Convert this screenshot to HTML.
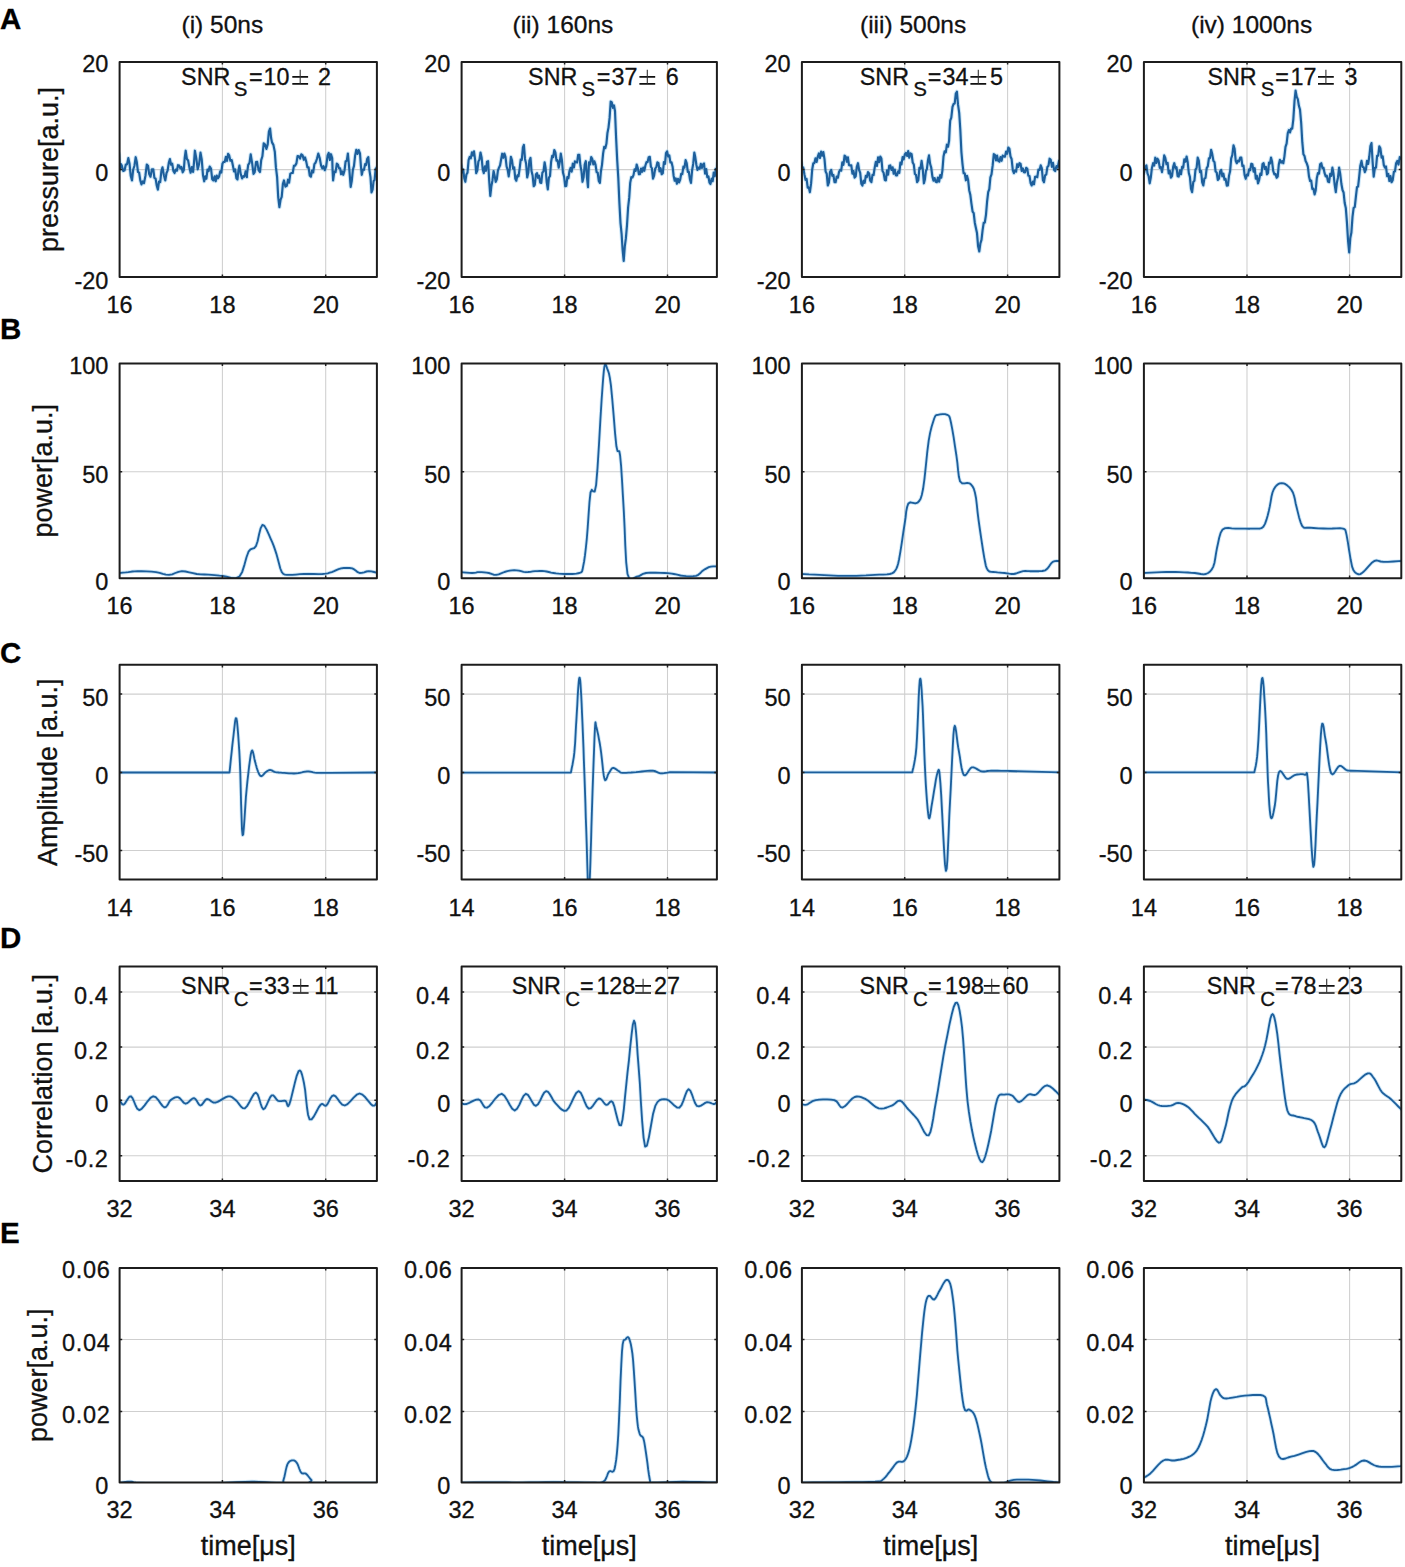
<!DOCTYPE html>
<html><head><meta charset="utf-8"><style>
html,body{margin:0;padding:0;background:#fff;}
svg{display:block;}
text{font-family:"Liberation Sans",sans-serif;fill:#111;stroke:#111;stroke-width:0.3px;}
.tk{font-size:23.5px;}
.lb{font-size:27px;}
.ti{font-size:24.5px;}
.lt{font-size:29.5px;font-weight:bold;fill:#000;}
.snr{font-size:23.3px;}
.sub{font-size:20.5px;}
</style></head><body>
<svg width="1405" height="1567" viewBox="0 0 1405 1567">
<rect width="100%" height="100%" fill="#fff"/>
<defs>
<clipPath id="c00"><rect x="119.6" y="62.0" width="257.29999999999995" height="215.0"/></clipPath>
<clipPath id="c01"><rect x="461.6" y="62.0" width="255.29999999999995" height="215.0"/></clipPath>
<clipPath id="c02"><rect x="801.9" y="62.0" width="257.5000000000001" height="215.0"/></clipPath>
<clipPath id="c03"><rect x="1143.9" y="62.0" width="257.39999999999986" height="215.0"/></clipPath>
<clipPath id="c10"><rect x="119.6" y="363.4" width="257.29999999999995" height="214.80000000000007"/></clipPath>
<clipPath id="c11"><rect x="461.6" y="363.4" width="255.29999999999995" height="214.80000000000007"/></clipPath>
<clipPath id="c12"><rect x="801.9" y="363.4" width="257.5000000000001" height="214.80000000000007"/></clipPath>
<clipPath id="c13"><rect x="1143.9" y="363.4" width="257.39999999999986" height="214.80000000000007"/></clipPath>
<clipPath id="c20"><rect x="119.6" y="664.8" width="257.29999999999995" height="214.80000000000007"/></clipPath>
<clipPath id="c21"><rect x="461.6" y="664.8" width="255.29999999999995" height="214.80000000000007"/></clipPath>
<clipPath id="c22"><rect x="801.9" y="664.8" width="257.5000000000001" height="214.80000000000007"/></clipPath>
<clipPath id="c23"><rect x="1143.9" y="664.8" width="257.39999999999986" height="214.80000000000007"/></clipPath>
<clipPath id="c30"><rect x="119.6" y="966.5" width="257.29999999999995" height="214.5999999999999"/></clipPath>
<clipPath id="c31"><rect x="461.6" y="966.5" width="255.29999999999995" height="214.5999999999999"/></clipPath>
<clipPath id="c32"><rect x="801.9" y="966.5" width="257.5000000000001" height="214.5999999999999"/></clipPath>
<clipPath id="c33"><rect x="1143.9" y="966.5" width="257.39999999999986" height="214.5999999999999"/></clipPath>
<clipPath id="c40"><rect x="119.6" y="1267.9" width="257.29999999999995" height="214.5999999999999"/></clipPath>
<clipPath id="c41"><rect x="461.6" y="1267.9" width="255.29999999999995" height="214.5999999999999"/></clipPath>
<clipPath id="c42"><rect x="801.9" y="1267.9" width="257.5000000000001" height="214.5999999999999"/></clipPath>
<clipPath id="c43"><rect x="1143.9" y="1267.9" width="257.39999999999986" height="214.5999999999999"/></clipPath>
</defs>
<path d="M222.4 62.0V277.0M325.7 62.0V277.0M119.6 169.6H376.9" stroke="#cfcfcf" stroke-width="1.05" fill="none"/>
<g clip-path="url(#c00)" fill="none" stroke-linejoin="round" stroke-linecap="round"><path d="M119.0 153.5 L119.5 162.6 L119.9 169.3 L120.9 164.1 L121.8 165.6 L123.2 171.0 L124.6 170.2 L125.8 164.6 L127.0 164.4 L128.3 158.1 L129.5 163.4 L130.7 175.7 L132.0 180.4 L133.2 169.5 L134.4 166.0 L135.7 157.2 L136.8 162.1 L138.0 172.1 L139.1 172.5 L140.3 180.4 L141.5 184.4 L142.8 181.4 L144.0 183.1 L145.4 176.0 L146.8 164.6 L148.0 165.7 L149.2 174.1 L150.5 176.7 L151.9 169.3 L153.3 169.3 L154.4 177.9 L155.6 178.6 L156.7 185.4 L157.9 189.6 L159.0 181.6 L160.2 182.1 L161.4 171.0 L162.5 167.4 L163.9 175.3 L165.3 180.4 L166.5 173.0 L167.6 170.6 L168.8 162.9 L169.9 159.1 L171.1 164.7 L172.2 163.7 L173.4 171.0 L174.6 173.0 L175.7 169.6 L176.9 170.7 L178.0 165.2 L179.2 165.6 L180.3 168.4 L181.5 167.0 L182.7 172.3 L183.8 170.2 L184.7 158.0 L185.7 150.7 L186.9 159.0 L188.1 160.5 L189.4 167.4 L190.6 172.7 L191.8 167.1 L193.1 172.0 L194.0 162.6 L194.9 150.7 L196.3 158.2 L197.7 169.3 L199.1 163.9 L200.5 152.6 L201.7 159.2 L203.0 175.3 L204.2 181.3 L205.3 176.3 L206.4 178.7 L207.5 169.6 L208.6 171.2 L209.7 166.5 L211.0 168.5 L212.2 179.2 L213.4 180.4 L214.6 176.3 L215.7 181.2 L216.8 175.6 L217.9 178.3 L219.0 176.7 L220.2 171.4 L221.3 172.5 L222.5 163.5 L223.6 161.9 L224.7 161.9 L225.9 156.8 L227.0 160.9 L228.1 153.8 L229.2 155.4 L230.4 160.7 L231.7 160.0 L232.9 165.6 L234.0 171.4 L235.2 169.4 L236.4 178.3 L237.5 179.4 L238.4 170.5 L239.4 165.6 L240.8 174.3 L242.1 178.5 L243.3 176.2 L244.5 176.7 L245.6 171.4 L246.8 173.0 L246.9 177.2 L247.0 173.9 L248.2 164.8 L249.5 162.9 L250.7 154.4 L252.1 162.9 L253.5 173.9 L254.7 172.2 L256.0 162.1 L257.2 161.9 L258.6 170.1 L260.0 172.0 L261.2 160.1 L262.4 156.3 L263.7 143.3 L265.1 144.6 L266.4 148.9 L267.7 144.4 L268.9 131.7 L270.1 128.5 L271.1 138.0 L272.0 142.4 L273.4 144.9 L274.8 151.7 L275.9 167.2 L277.1 177.0 L278.2 197.0 L279.4 207.2 L280.6 199.7 L281.7 196.9 L282.9 183.8 L284.0 180.4 L285.4 186.6 L286.8 185.9 L288.0 179.7 L289.1 182.7 L290.3 173.8 L291.4 173.0 L292.7 173.0 L293.9 165.9 L295.1 165.6 L296.4 163.4 L297.6 156.0 L298.9 156.3 L300.1 158.5 L301.3 154.3 L302.6 155.4 L303.8 159.8 L305.0 157.4 L306.3 161.9 L307.4 167.4 L308.6 167.4 L309.7 175.4 L310.9 176.7 L312.0 170.5 L313.2 172.4 L314.4 164.1 L315.5 162.8 L316.9 159.0 L318.3 153.5 L319.7 158.0 L321.1 165.6 L322.3 168.4 L323.5 166.1 L324.8 170.2 L326.2 166.2 L327.6 155.4 L328.7 152.9 L329.9 160.0 L331.0 154.2 L332.2 158.1 L332.6 170.8 L333.1 180.4 L334.3 171.5 L335.6 172.1 L336.8 163.7 L337.9 164.5 L339.0 168.3 L340.1 168.4 L341.1 174.2 L342.2 171.4 L343.3 174.8 L344.5 170.6 L345.6 161.5 L346.8 160.7 L347.9 153.5 L349.3 169.2 L350.7 186.9 L351.8 180.7 L352.9 169.7 L354.0 165.9 L355.1 155.6 L356.3 149.8 L357.5 154.0 L358.7 150.1 L360.0 153.5 L360.9 165.9 L361.8 174.8 L362.9 169.7 L364.0 169.8 L365.1 164.1 L366.1 165.1 L367.2 158.8 L368.3 157.2 L369.4 170.1 L370.5 177.2 L371.5 192.4 L372.6 189.7 L373.6 181.0 L374.6 180.0 L375.6 169.2 L376.6 167.4" stroke="#5ab0e8" stroke-opacity="0.3" stroke-width="4.2"/><path d="M119.0 153.5 L119.5 162.6 L119.9 169.3 L120.9 164.1 L121.8 165.6 L123.2 171.0 L124.6 170.2 L125.8 164.6 L127.0 164.4 L128.3 158.1 L129.5 163.4 L130.7 175.7 L132.0 180.4 L133.2 169.5 L134.4 166.0 L135.7 157.2 L136.8 162.1 L138.0 172.1 L139.1 172.5 L140.3 180.4 L141.5 184.4 L142.8 181.4 L144.0 183.1 L145.4 176.0 L146.8 164.6 L148.0 165.7 L149.2 174.1 L150.5 176.7 L151.9 169.3 L153.3 169.3 L154.4 177.9 L155.6 178.6 L156.7 185.4 L157.9 189.6 L159.0 181.6 L160.2 182.1 L161.4 171.0 L162.5 167.4 L163.9 175.3 L165.3 180.4 L166.5 173.0 L167.6 170.6 L168.8 162.9 L169.9 159.1 L171.1 164.7 L172.2 163.7 L173.4 171.0 L174.6 173.0 L175.7 169.6 L176.9 170.7 L178.0 165.2 L179.2 165.6 L180.3 168.4 L181.5 167.0 L182.7 172.3 L183.8 170.2 L184.7 158.0 L185.7 150.7 L186.9 159.0 L188.1 160.5 L189.4 167.4 L190.6 172.7 L191.8 167.1 L193.1 172.0 L194.0 162.6 L194.9 150.7 L196.3 158.2 L197.7 169.3 L199.1 163.9 L200.5 152.6 L201.7 159.2 L203.0 175.3 L204.2 181.3 L205.3 176.3 L206.4 178.7 L207.5 169.6 L208.6 171.2 L209.7 166.5 L211.0 168.5 L212.2 179.2 L213.4 180.4 L214.6 176.3 L215.7 181.2 L216.8 175.6 L217.9 178.3 L219.0 176.7 L220.2 171.4 L221.3 172.5 L222.5 163.5 L223.6 161.9 L224.7 161.9 L225.9 156.8 L227.0 160.9 L228.1 153.8 L229.2 155.4 L230.4 160.7 L231.7 160.0 L232.9 165.6 L234.0 171.4 L235.2 169.4 L236.4 178.3 L237.5 179.4 L238.4 170.5 L239.4 165.6 L240.8 174.3 L242.1 178.5 L243.3 176.2 L244.5 176.7 L245.6 171.4 L246.8 173.0 L246.9 177.2 L247.0 173.9 L248.2 164.8 L249.5 162.9 L250.7 154.4 L252.1 162.9 L253.5 173.9 L254.7 172.2 L256.0 162.1 L257.2 161.9 L258.6 170.1 L260.0 172.0 L261.2 160.1 L262.4 156.3 L263.7 143.3 L265.1 144.6 L266.4 148.9 L267.7 144.4 L268.9 131.7 L270.1 128.5 L271.1 138.0 L272.0 142.4 L273.4 144.9 L274.8 151.7 L275.9 167.2 L277.1 177.0 L278.2 197.0 L279.4 207.2 L280.6 199.7 L281.7 196.9 L282.9 183.8 L284.0 180.4 L285.4 186.6 L286.8 185.9 L288.0 179.7 L289.1 182.7 L290.3 173.8 L291.4 173.0 L292.7 173.0 L293.9 165.9 L295.1 165.6 L296.4 163.4 L297.6 156.0 L298.9 156.3 L300.1 158.5 L301.3 154.3 L302.6 155.4 L303.8 159.8 L305.0 157.4 L306.3 161.9 L307.4 167.4 L308.6 167.4 L309.7 175.4 L310.9 176.7 L312.0 170.5 L313.2 172.4 L314.4 164.1 L315.5 162.8 L316.9 159.0 L318.3 153.5 L319.7 158.0 L321.1 165.6 L322.3 168.4 L323.5 166.1 L324.8 170.2 L326.2 166.2 L327.6 155.4 L328.7 152.9 L329.9 160.0 L331.0 154.2 L332.2 158.1 L332.6 170.8 L333.1 180.4 L334.3 171.5 L335.6 172.1 L336.8 163.7 L337.9 164.5 L339.0 168.3 L340.1 168.4 L341.1 174.2 L342.2 171.4 L343.3 174.8 L344.5 170.6 L345.6 161.5 L346.8 160.7 L347.9 153.5 L349.3 169.2 L350.7 186.9 L351.8 180.7 L352.9 169.7 L354.0 165.9 L355.1 155.6 L356.3 149.8 L357.5 154.0 L358.7 150.1 L360.0 153.5 L360.9 165.9 L361.8 174.8 L362.9 169.7 L364.0 169.8 L365.1 164.1 L366.1 165.1 L367.2 158.8 L368.3 157.2 L369.4 170.1 L370.5 177.2 L371.5 192.4 L372.6 189.7 L373.6 181.0 L374.6 180.0 L375.6 169.2 L376.6 167.4" stroke="#1d5f9c" stroke-width="2.15"/></g>
<path d="M222.4 62.0v2.6M222.4 277.0v-2.6M325.7 62.0v2.6M325.7 277.0v-2.6M119.6 169.6h2.6M376.9 169.6h-2.6" stroke="#222" stroke-width="1.5" fill="none"/>
<rect x="119.6" y="62.0" width="257.3" height="215.0" fill="none" stroke="#1c1c1c" stroke-width="2.0" stroke-linejoin="round"/>
<text x="108.4" y="72.1" text-anchor="end" class="tk">20</text>
<text x="108.4" y="181.1" text-anchor="end" class="tk">0</text>
<text x="108.4" y="288.5" text-anchor="end" class="tk">-20</text>
<text x="119.6" y="312.9" text-anchor="middle" class="tk">16</text>
<text x="222.4" y="312.9" text-anchor="middle" class="tk">18</text>
<text x="325.7" y="312.9" text-anchor="middle" class="tk">20</text>
<path d="M564.6 62.0V277.0M667.5 62.0V277.0M461.6 169.6H716.9" stroke="#cfcfcf" stroke-width="1.05" fill="none"/>
<g clip-path="url(#c01)" fill="none" stroke-linejoin="round" stroke-linecap="round"><path d="M461.0 164.5 L462.1 172.5 L463.2 169.5 L464.3 178.4 L465.3 181.8 L466.4 174.5 L467.5 172.6 L468.6 160.1 L469.7 156.9 L470.8 158.3 L471.9 152.4 L472.9 155.4 L474.0 151.4 L475.1 159.7 L476.2 173.1 L477.3 170.5 L478.4 161.5 L479.4 159.8 L480.5 152.5 L481.6 157.4 L482.7 169.2 L483.8 173.1 L484.9 166.4 L486.0 170.8 L487.0 161.7 L488.1 161.2 L489.2 180.7 L490.3 195.9 L491.4 186.0 L492.5 180.2 L493.6 171.0 L494.6 175.5 L495.7 181.8 L496.8 179.3 L497.9 170.7 L499.0 167.7 L500.1 165.3 L501.2 159.0 L502.2 153.7 L503.3 157.8 L504.4 153.6 L505.5 156.8 L506.6 166.5 L507.7 169.8 L508.7 176.4 L509.8 168.4 L510.9 156.9 L512.0 160.4 L513.1 168.7 L514.2 167.4 L515.3 178.8 L516.3 180.7 L517.4 175.4 L518.5 176.3 L519.6 168.8 L520.7 159.6 L521.8 159.9 L522.9 147.4 L523.9 144.9 L525.0 158.9 L526.1 163.5 L527.2 177.5 L528.3 172.8 L529.4 160.7 L530.5 157.9 L531.5 171.0 L532.6 175.5 L533.7 186.2 L534.8 184.9 L535.9 174.5 L537.0 173.1 L538.0 177.8 L539.1 175.6 L540.2 182.7 L541.3 182.9 L542.4 172.5 L543.5 171.5 L544.6 162.3 L545.6 168.0 L546.7 182.2 L547.8 189.4 L548.9 177.6 L550.0 176.1 L551.1 162.0 L552.2 155.8 L553.2 157.2 L554.3 150.0 L555.4 152.5 L556.5 160.6 L557.6 160.4 L558.7 167.7 L559.8 162.1 L560.8 153.6 L561.9 160.0 L563.0 172.8 L564.1 176.7 L565.2 186.2 L566.3 185.9 L567.3 177.0 L568.4 178.3 L569.5 171.0 L570.6 167.8 L571.7 171.7 L572.8 163.7 L573.9 167.5 L574.9 161.4 L576.0 162.3 L577.1 162.5 L578.2 154.7 L579.3 154.7 L580.4 165.5 L581.5 171.3 L582.5 181.8 L583.6 177.3 L584.7 164.5 L585.8 161.2 L586.9 176.9 L588.0 187.2 L588.5 173.7 L589.0 162.3 L590.1 164.5 L591.2 157.1 L592.3 159.0 L593.3 164.4 L594.4 161.3 L595.5 164.5 L596.6 172.1 L597.7 172.7 L598.8 181.0 L599.9 182.9 L600.9 171.5 L602.0 164.8 L603.1 153.6 L604.2 146.9 L605.3 148.2 L606.4 143.8 L607.4 133.3 L608.5 127.6 L609.6 117.9 L610.7 101.5 L611.8 102.4 L612.9 107.8 L614.0 105.4 L615.0 111.3 L616.1 137.8 L617.2 160.1 L618.3 178.1 L619.4 203.0 L620.5 223.1 L621.6 233.8 L622.6 249.7 L623.7 261.0 L624.8 246.3 L625.9 238.2 L627.0 225.2 L628.1 207.5 L629.2 197.9 L630.2 182.9 L631.3 177.2 L632.4 177.5 L633.5 175.1 L634.6 169.4 L635.7 170.9 L636.7 164.5 L637.8 168.1 L638.9 174.2 L640.0 174.1 L641.1 168.5 L642.2 171.8 L643.3 167.5 L644.3 170.8 L645.4 165.5 L646.5 162.1 L647.6 162.1 L648.7 157.2 L649.8 156.9 L650.9 166.7 L651.9 168.3 L653.0 178.6 L654.1 175.6 L655.2 168.6 L656.3 167.2 L657.4 162.3 L658.5 163.1 L659.5 171.3 L660.6 168.2 L661.7 174.2 L662.8 173.2 L663.9 162.0 L665.0 163.9 L666.0 153.1 L667.1 151.4 L668.2 156.4 L669.3 155.4 L670.4 162.4 L671.5 162.3 L672.6 166.7 L673.6 175.7 L674.7 180.7 L675.8 178.4 L676.9 183.7 L678.0 178.9 L679.1 182.4 L680.2 179.6 L681.2 173.8 L682.3 174.2 L683.4 166.7 L684.5 167.7 L685.6 160.1 L686.7 163.1 L687.8 171.8 L688.8 171.7 L689.9 179.2 L691.0 182.9 L692.1 170.3 L693.2 163.9 L694.3 152.5 L695.3 157.3 L696.4 165.0 L697.5 169.9 L698.6 167.5 L699.7 168.8 L700.8 163.9 L701.9 167.9 L702.9 164.5 L704.0 163.5 L705.1 173.6 L706.2 169.0 L707.3 177.1 L708.4 176.3 L709.5 182.7 L710.5 184.0 L711.6 178.7 L712.7 181.2 L713.7 172.6 L714.8 176.1 L715.8 168.9 L716.9 169.8 L717.9 162.6 L719.0 162.3" stroke="#5ab0e8" stroke-opacity="0.3" stroke-width="4.2"/><path d="M461.0 164.5 L462.1 172.5 L463.2 169.5 L464.3 178.4 L465.3 181.8 L466.4 174.5 L467.5 172.6 L468.6 160.1 L469.7 156.9 L470.8 158.3 L471.9 152.4 L472.9 155.4 L474.0 151.4 L475.1 159.7 L476.2 173.1 L477.3 170.5 L478.4 161.5 L479.4 159.8 L480.5 152.5 L481.6 157.4 L482.7 169.2 L483.8 173.1 L484.9 166.4 L486.0 170.8 L487.0 161.7 L488.1 161.2 L489.2 180.7 L490.3 195.9 L491.4 186.0 L492.5 180.2 L493.6 171.0 L494.6 175.5 L495.7 181.8 L496.8 179.3 L497.9 170.7 L499.0 167.7 L500.1 165.3 L501.2 159.0 L502.2 153.7 L503.3 157.8 L504.4 153.6 L505.5 156.8 L506.6 166.5 L507.7 169.8 L508.7 176.4 L509.8 168.4 L510.9 156.9 L512.0 160.4 L513.1 168.7 L514.2 167.4 L515.3 178.8 L516.3 180.7 L517.4 175.4 L518.5 176.3 L519.6 168.8 L520.7 159.6 L521.8 159.9 L522.9 147.4 L523.9 144.9 L525.0 158.9 L526.1 163.5 L527.2 177.5 L528.3 172.8 L529.4 160.7 L530.5 157.9 L531.5 171.0 L532.6 175.5 L533.7 186.2 L534.8 184.9 L535.9 174.5 L537.0 173.1 L538.0 177.8 L539.1 175.6 L540.2 182.7 L541.3 182.9 L542.4 172.5 L543.5 171.5 L544.6 162.3 L545.6 168.0 L546.7 182.2 L547.8 189.4 L548.9 177.6 L550.0 176.1 L551.1 162.0 L552.2 155.8 L553.2 157.2 L554.3 150.0 L555.4 152.5 L556.5 160.6 L557.6 160.4 L558.7 167.7 L559.8 162.1 L560.8 153.6 L561.9 160.0 L563.0 172.8 L564.1 176.7 L565.2 186.2 L566.3 185.9 L567.3 177.0 L568.4 178.3 L569.5 171.0 L570.6 167.8 L571.7 171.7 L572.8 163.7 L573.9 167.5 L574.9 161.4 L576.0 162.3 L577.1 162.5 L578.2 154.7 L579.3 154.7 L580.4 165.5 L581.5 171.3 L582.5 181.8 L583.6 177.3 L584.7 164.5 L585.8 161.2 L586.9 176.9 L588.0 187.2 L588.5 173.7 L589.0 162.3 L590.1 164.5 L591.2 157.1 L592.3 159.0 L593.3 164.4 L594.4 161.3 L595.5 164.5 L596.6 172.1 L597.7 172.7 L598.8 181.0 L599.9 182.9 L600.9 171.5 L602.0 164.8 L603.1 153.6 L604.2 146.9 L605.3 148.2 L606.4 143.8 L607.4 133.3 L608.5 127.6 L609.6 117.9 L610.7 101.5 L611.8 102.4 L612.9 107.8 L614.0 105.4 L615.0 111.3 L616.1 137.8 L617.2 160.1 L618.3 178.1 L619.4 203.0 L620.5 223.1 L621.6 233.8 L622.6 249.7 L623.7 261.0 L624.8 246.3 L625.9 238.2 L627.0 225.2 L628.1 207.5 L629.2 197.9 L630.2 182.9 L631.3 177.2 L632.4 177.5 L633.5 175.1 L634.6 169.4 L635.7 170.9 L636.7 164.5 L637.8 168.1 L638.9 174.2 L640.0 174.1 L641.1 168.5 L642.2 171.8 L643.3 167.5 L644.3 170.8 L645.4 165.5 L646.5 162.1 L647.6 162.1 L648.7 157.2 L649.8 156.9 L650.9 166.7 L651.9 168.3 L653.0 178.6 L654.1 175.6 L655.2 168.6 L656.3 167.2 L657.4 162.3 L658.5 163.1 L659.5 171.3 L660.6 168.2 L661.7 174.2 L662.8 173.2 L663.9 162.0 L665.0 163.9 L666.0 153.1 L667.1 151.4 L668.2 156.4 L669.3 155.4 L670.4 162.4 L671.5 162.3 L672.6 166.7 L673.6 175.7 L674.7 180.7 L675.8 178.4 L676.9 183.7 L678.0 178.9 L679.1 182.4 L680.2 179.6 L681.2 173.8 L682.3 174.2 L683.4 166.7 L684.5 167.7 L685.6 160.1 L686.7 163.1 L687.8 171.8 L688.8 171.7 L689.9 179.2 L691.0 182.9 L692.1 170.3 L693.2 163.9 L694.3 152.5 L695.3 157.3 L696.4 165.0 L697.5 169.9 L698.6 167.5 L699.7 168.8 L700.8 163.9 L701.9 167.9 L702.9 164.5 L704.0 163.5 L705.1 173.6 L706.2 169.0 L707.3 177.1 L708.4 176.3 L709.5 182.7 L710.5 184.0 L711.6 178.7 L712.7 181.2 L713.7 172.6 L714.8 176.1 L715.8 168.9 L716.9 169.8 L717.9 162.6 L719.0 162.3" stroke="#1d5f9c" stroke-width="2.15"/></g>
<path d="M564.6 62.0v2.6M564.6 277.0v-2.6M667.5 62.0v2.6M667.5 277.0v-2.6M461.6 169.6h2.6M716.9 169.6h-2.6" stroke="#222" stroke-width="1.5" fill="none"/>
<rect x="461.6" y="62.0" width="255.3" height="215.0" fill="none" stroke="#1c1c1c" stroke-width="2.0" stroke-linejoin="round"/>
<text x="450.4" y="72.1" text-anchor="end" class="tk">20</text>
<text x="450.4" y="181.1" text-anchor="end" class="tk">0</text>
<text x="450.4" y="288.5" text-anchor="end" class="tk">-20</text>
<text x="461.6" y="312.9" text-anchor="middle" class="tk">16</text>
<text x="564.6" y="312.9" text-anchor="middle" class="tk">18</text>
<text x="667.5" y="312.9" text-anchor="middle" class="tk">20</text>
<path d="M904.7 62.0V277.0M1007.6 62.0V277.0M801.9 169.6H1059.4" stroke="#cfcfcf" stroke-width="1.05" fill="none"/>
<g clip-path="url(#c02)" fill="none" stroke-linejoin="round" stroke-linecap="round"><path d="M801.0 160.9 L802.1 166.9 L803.2 167.4 L804.4 174.3 L805.5 179.8 L806.6 178.9 L807.7 187.7 L808.8 187.6 L809.9 192.2 L811.1 183.4 L812.2 169.5 L813.3 163.2 L814.4 163.1 L815.5 158.3 L816.6 161.9 L817.8 156.5 L818.9 153.4 L820.0 158.0 L821.1 151.6 L822.2 155.6 L823.3 152.0 L824.5 159.1 L825.6 171.5 L826.7 173.7 L827.8 185.5 L828.9 182.7 L830.0 172.1 L831.2 169.9 L832.3 175.8 L833.4 175.0 L834.5 182.2 L835.6 182.2 L836.7 176.5 L837.9 177.7 L839.0 172.1 L840.1 169.9 L841.2 170.6 L842.3 162.3 L843.4 164.8 L844.6 155.7 L845.7 156.5 L846.8 161.7 L847.9 157.4 L849.0 165.2 L850.1 165.4 L851.3 165.3 L852.4 173.7 L853.5 171.0 L854.6 177.7 L855.7 176.3 L856.8 166.9 L858.0 163.2 L859.1 170.0 L860.2 172.9 L861.3 183.6 L862.4 185.5 L863.5 180.7 L864.7 182.8 L865.8 175.8 L866.9 177.1 L868.0 172.1 L869.1 173.5 L870.2 180.7 L871.4 182.2 L872.5 174.8 L873.6 175.0 L874.7 167.6 L875.8 161.9 L876.9 166.0 L878.1 157.4 L879.2 162.1 L880.3 156.5 L881.4 158.6 L882.5 171.0 L883.6 172.8 L884.8 179.9 L885.9 180.4 L887.0 170.4 L888.1 174.7 L889.2 165.8 L890.3 165.4 L891.5 170.0 L892.6 167.3 L893.7 173.7 L894.8 169.6 L895.9 175.4 L897.0 175.5 L898.2 171.4 L899.3 172.8 L900.4 162.6 L901.5 164.4 L902.6 157.1 L903.7 159.3 L904.9 154.2 L906.0 153.0 L907.1 155.9 L908.2 151.1 L909.3 157.7 L910.4 153.3 L911.6 154.2 L912.7 162.5 L913.8 164.5 L914.9 174.0 L916.0 174.8 L917.1 182.2 L918.3 180.3 L919.4 167.8 L920.5 168.6 L921.6 160.9 L922.7 168.3 L923.9 183.3 L924.9 179.4 L925.9 171.1 L926.9 169.1 L928.0 160.0 L929.0 155.4 L930.1 163.8 L931.2 167.5 L932.4 176.6 L933.5 180.6 L934.6 178.1 L935.7 181.7 L936.8 182.2 L937.9 177.6 L939.1 181.7 L940.2 175.1 L941.3 177.7 L942.4 170.6 L943.5 156.5 L944.6 151.4 L945.8 152.4 L946.9 144.7 L948.0 146.7 L949.1 140.8 L949.7 128.2 L950.2 120.7 L951.3 117.6 L952.5 106.9 L953.6 104.0 L954.7 103.5 L955.8 93.5 L956.9 91.7 L958.0 104.4 L959.2 112.9 L960.3 129.5 L961.4 152.0 L962.5 164.1 L963.6 173.2 L964.7 173.2 L965.9 180.3 L967.0 175.9 L968.1 179.9 L969.2 190.2 L970.3 194.7 L971.4 203.4 L972.6 211.6 L973.7 213.1 L974.8 222.7 L975.9 228.0 L977.0 233.1 L978.1 246.3 L979.3 251.4 L980.4 243.4 L981.5 239.9 L982.6 230.2 L983.7 222.8 L984.8 222.6 L986.0 214.6 L987.1 201.5 L988.2 192.2 L989.3 189.2 L990.4 177.3 L991.5 174.3 L992.7 165.2 L993.8 154.2 L994.9 154.9 L996.0 160.4 L997.1 155.6 L998.2 160.9 L999.4 161.6 L1000.5 157.0 L1001.6 160.8 L1002.7 155.6 L1003.8 156.5 L1004.9 156.8 L1006.1 151.6 L1007.2 153.7 L1008.3 147.6 L1009.4 148.7 L1010.5 156.5 L1011.6 159.0 L1012.8 170.2 L1013.9 173.2 L1015.0 170.3 L1016.1 171.7 L1017.2 164.2 L1018.3 166.9 L1019.5 163.2 L1020.6 163.9 L1021.7 170.9 L1022.8 168.4 L1023.9 172.1 L1025.0 172.4 L1026.2 167.8 L1027.3 168.8 L1028.4 175.8 L1029.5 176.0 L1030.6 183.1 L1031.7 185.5 L1032.9 181.5 L1034.0 184.3 L1035.1 176.7 L1036.2 176.6 L1037.3 177.2 L1038.4 169.7 L1039.6 170.0 L1040.7 165.4 L1041.8 168.2 L1042.9 180.0 L1044.0 182.2 L1045.1 175.3 L1046.3 174.3 L1047.4 166.9 L1048.5 165.8 L1049.6 158.7 L1050.7 159.8 L1051.9 166.8 L1053.0 162.8 L1054.1 169.9 L1055.2 171.0 L1056.5 166.0 L1057.7 167.5 L1059.0 160.9" stroke="#5ab0e8" stroke-opacity="0.3" stroke-width="4.2"/><path d="M801.0 160.9 L802.1 166.9 L803.2 167.4 L804.4 174.3 L805.5 179.8 L806.6 178.9 L807.7 187.7 L808.8 187.6 L809.9 192.2 L811.1 183.4 L812.2 169.5 L813.3 163.2 L814.4 163.1 L815.5 158.3 L816.6 161.9 L817.8 156.5 L818.9 153.4 L820.0 158.0 L821.1 151.6 L822.2 155.6 L823.3 152.0 L824.5 159.1 L825.6 171.5 L826.7 173.7 L827.8 185.5 L828.9 182.7 L830.0 172.1 L831.2 169.9 L832.3 175.8 L833.4 175.0 L834.5 182.2 L835.6 182.2 L836.7 176.5 L837.9 177.7 L839.0 172.1 L840.1 169.9 L841.2 170.6 L842.3 162.3 L843.4 164.8 L844.6 155.7 L845.7 156.5 L846.8 161.7 L847.9 157.4 L849.0 165.2 L850.1 165.4 L851.3 165.3 L852.4 173.7 L853.5 171.0 L854.6 177.7 L855.7 176.3 L856.8 166.9 L858.0 163.2 L859.1 170.0 L860.2 172.9 L861.3 183.6 L862.4 185.5 L863.5 180.7 L864.7 182.8 L865.8 175.8 L866.9 177.1 L868.0 172.1 L869.1 173.5 L870.2 180.7 L871.4 182.2 L872.5 174.8 L873.6 175.0 L874.7 167.6 L875.8 161.9 L876.9 166.0 L878.1 157.4 L879.2 162.1 L880.3 156.5 L881.4 158.6 L882.5 171.0 L883.6 172.8 L884.8 179.9 L885.9 180.4 L887.0 170.4 L888.1 174.7 L889.2 165.8 L890.3 165.4 L891.5 170.0 L892.6 167.3 L893.7 173.7 L894.8 169.6 L895.9 175.4 L897.0 175.5 L898.2 171.4 L899.3 172.8 L900.4 162.6 L901.5 164.4 L902.6 157.1 L903.7 159.3 L904.9 154.2 L906.0 153.0 L907.1 155.9 L908.2 151.1 L909.3 157.7 L910.4 153.3 L911.6 154.2 L912.7 162.5 L913.8 164.5 L914.9 174.0 L916.0 174.8 L917.1 182.2 L918.3 180.3 L919.4 167.8 L920.5 168.6 L921.6 160.9 L922.7 168.3 L923.9 183.3 L924.9 179.4 L925.9 171.1 L926.9 169.1 L928.0 160.0 L929.0 155.4 L930.1 163.8 L931.2 167.5 L932.4 176.6 L933.5 180.6 L934.6 178.1 L935.7 181.7 L936.8 182.2 L937.9 177.6 L939.1 181.7 L940.2 175.1 L941.3 177.7 L942.4 170.6 L943.5 156.5 L944.6 151.4 L945.8 152.4 L946.9 144.7 L948.0 146.7 L949.1 140.8 L949.7 128.2 L950.2 120.7 L951.3 117.6 L952.5 106.9 L953.6 104.0 L954.7 103.5 L955.8 93.5 L956.9 91.7 L958.0 104.4 L959.2 112.9 L960.3 129.5 L961.4 152.0 L962.5 164.1 L963.6 173.2 L964.7 173.2 L965.9 180.3 L967.0 175.9 L968.1 179.9 L969.2 190.2 L970.3 194.7 L971.4 203.4 L972.6 211.6 L973.7 213.1 L974.8 222.7 L975.9 228.0 L977.0 233.1 L978.1 246.3 L979.3 251.4 L980.4 243.4 L981.5 239.9 L982.6 230.2 L983.7 222.8 L984.8 222.6 L986.0 214.6 L987.1 201.5 L988.2 192.2 L989.3 189.2 L990.4 177.3 L991.5 174.3 L992.7 165.2 L993.8 154.2 L994.9 154.9 L996.0 160.4 L997.1 155.6 L998.2 160.9 L999.4 161.6 L1000.5 157.0 L1001.6 160.8 L1002.7 155.6 L1003.8 156.5 L1004.9 156.8 L1006.1 151.6 L1007.2 153.7 L1008.3 147.6 L1009.4 148.7 L1010.5 156.5 L1011.6 159.0 L1012.8 170.2 L1013.9 173.2 L1015.0 170.3 L1016.1 171.7 L1017.2 164.2 L1018.3 166.9 L1019.5 163.2 L1020.6 163.9 L1021.7 170.9 L1022.8 168.4 L1023.9 172.1 L1025.0 172.4 L1026.2 167.8 L1027.3 168.8 L1028.4 175.8 L1029.5 176.0 L1030.6 183.1 L1031.7 185.5 L1032.9 181.5 L1034.0 184.3 L1035.1 176.7 L1036.2 176.6 L1037.3 177.2 L1038.4 169.7 L1039.6 170.0 L1040.7 165.4 L1041.8 168.2 L1042.9 180.0 L1044.0 182.2 L1045.1 175.3 L1046.3 174.3 L1047.4 166.9 L1048.5 165.8 L1049.6 158.7 L1050.7 159.8 L1051.9 166.8 L1053.0 162.8 L1054.1 169.9 L1055.2 171.0 L1056.5 166.0 L1057.7 167.5 L1059.0 160.9" stroke="#1d5f9c" stroke-width="2.15"/></g>
<path d="M904.7 62.0v2.6M904.7 277.0v-2.6M1007.6 62.0v2.6M1007.6 277.0v-2.6M801.9 169.6h2.6M1059.4 169.6h-2.6" stroke="#222" stroke-width="1.5" fill="none"/>
<rect x="801.9" y="62.0" width="257.5" height="215.0" fill="none" stroke="#1c1c1c" stroke-width="2.0" stroke-linejoin="round"/>
<text x="790.7" y="72.1" text-anchor="end" class="tk">20</text>
<text x="790.7" y="181.1" text-anchor="end" class="tk">0</text>
<text x="790.7" y="288.5" text-anchor="end" class="tk">-20</text>
<text x="801.9" y="312.9" text-anchor="middle" class="tk">16</text>
<text x="904.7" y="312.9" text-anchor="middle" class="tk">18</text>
<text x="1007.6" y="312.9" text-anchor="middle" class="tk">20</text>
<path d="M1247.0 62.0V277.0M1349.6 62.0V277.0M1143.9 169.6H1401.3" stroke="#cfcfcf" stroke-width="1.05" fill="none"/>
<g clip-path="url(#c03)" fill="none" stroke-linejoin="round" stroke-linecap="round"><path d="M1143.0 174.3 L1144.1 172.9 L1145.2 167.3 L1146.4 165.4 L1147.5 173.4 L1148.6 176.1 L1149.7 183.3 L1150.8 177.6 L1151.9 167.9 L1153.1 163.2 L1154.2 165.6 L1155.3 157.7 L1156.4 162.9 L1157.5 158.7 L1158.6 160.6 L1159.8 167.8 L1160.9 167.1 L1162.0 172.1 L1163.1 165.1 L1164.2 155.4 L1165.3 158.0 L1166.5 164.2 L1167.6 162.9 L1168.7 173.5 L1169.8 170.8 L1170.9 177.7 L1172.0 176.1 L1173.2 166.6 L1174.3 163.2 L1175.4 168.3 L1176.5 167.2 L1177.6 176.2 L1178.7 176.6 L1179.9 170.3 L1181.0 174.3 L1182.1 166.9 L1183.2 167.7 L1184.3 159.4 L1185.4 161.7 L1186.6 156.5 L1187.7 162.3 L1188.8 173.0 L1189.9 176.9 L1191.0 188.7 L1192.1 192.2 L1193.3 181.9 L1194.4 180.8 L1195.5 169.7 L1196.6 168.0 L1197.7 157.6 L1198.8 160.7 L1200.0 172.2 L1201.1 171.0 L1202.2 182.3 L1203.3 185.5 L1204.4 178.4 L1205.5 177.9 L1206.7 168.1 L1207.8 166.4 L1208.9 158.3 L1210.0 158.1 L1211.1 149.8 L1212.2 153.9 L1213.4 160.8 L1214.5 162.2 L1215.6 171.5 L1216.7 172.5 L1217.8 179.9 L1218.9 178.8 L1220.1 171.4 L1221.2 169.9 L1222.3 176.3 L1223.4 173.7 L1224.5 179.7 L1225.6 178.9 L1226.8 185.6 L1227.9 185.5 L1229.0 175.8 L1230.1 171.3 L1231.2 158.3 L1232.3 155.1 L1233.5 145.3 L1234.6 148.8 L1235.7 160.7 L1236.8 163.2 L1237.9 160.7 L1239.0 161.4 L1240.2 157.5 L1241.3 157.6 L1242.4 166.0 L1243.5 165.6 L1244.6 175.0 L1245.7 178.8 L1246.9 174.6 L1248.0 175.3 L1249.1 169.4 L1250.2 170.1 L1251.3 163.8 L1252.4 164.3 L1253.6 171.6 L1254.7 168.2 L1255.8 178.7 L1256.9 175.8 L1258.0 183.3 L1259.1 180.1 L1260.3 173.6 L1261.4 174.9 L1262.5 164.1 L1263.6 163.2 L1264.7 168.9 L1265.9 167.0 L1267.0 174.3 L1268.0 172.8 L1269.0 162.7 L1270.0 163.5 L1271.0 157.6 L1272.1 161.8 L1273.2 170.9 L1274.4 174.3 L1275.5 173.9 L1276.6 177.8 L1277.7 176.6 L1278.8 164.5 L1279.9 159.8 L1281.1 162.7 L1282.2 161.2 L1283.3 163.2 L1284.4 156.6 L1285.5 146.8 L1286.6 143.7 L1287.8 133.0 L1288.9 130.0 L1290.0 132.5 L1291.1 128.6 L1292.2 128.6 L1293.3 119.6 L1294.5 101.2 L1295.6 90.6 L1296.7 96.8 L1297.8 99.1 L1298.9 105.8 L1300.0 109.6 L1301.2 123.2 L1302.3 142.2 L1303.4 154.2 L1304.5 156.0 L1305.6 161.1 L1306.7 163.2 L1307.9 166.9 L1309.0 176.6 L1310.1 181.0 L1311.2 180.6 L1312.3 188.9 L1313.4 188.7 L1314.6 194.4 L1315.7 190.5 L1316.8 178.3 L1317.9 173.2 L1319.0 173.6 L1320.1 164.3 L1321.3 163.2 L1322.4 168.1 L1323.5 167.8 L1324.6 173.2 L1325.7 176.4 L1326.8 175.6 L1328.0 181.5 L1329.1 182.2 L1330.2 173.9 L1331.3 175.8 L1332.4 167.6 L1333.5 173.5 L1334.7 184.9 L1335.8 192.2 L1336.9 182.5 L1338.0 177.4 L1339.1 167.6 L1340.2 173.7 L1341.4 184.0 L1342.5 190.0 L1343.6 192.5 L1344.7 203.1 L1345.8 207.9 L1346.9 221.8 L1348.1 241.2 L1349.2 252.5 L1350.3 238.1 L1351.4 232.5 L1352.5 216.8 L1353.6 208.1 L1354.8 206.9 L1355.9 196.7 L1357.0 187.2 L1358.1 186.5 L1359.2 176.6 L1360.3 165.7 L1361.5 160.9 L1362.6 166.9 L1363.7 167.3 L1364.8 172.1 L1365.9 169.6 L1367.0 160.9 L1368.2 163.9 L1369.3 156.5 L1370.4 146.2 L1371.5 143.1 L1372.6 161.6 L1373.7 176.6 L1374.9 167.8 L1376.0 167.7 L1377.1 155.8 L1378.2 155.7 L1379.3 146.4 L1380.4 148.3 L1381.6 157.7 L1382.7 156.3 L1383.8 165.0 L1384.9 167.6 L1386.0 166.5 L1387.1 176.2 L1388.3 173.9 L1389.4 181.0 L1390.5 176.1 L1391.6 182.2 L1392.7 180.2 L1393.9 171.7 L1395.0 171.4 L1396.1 163.2 L1397.3 160.9 L1398.5 164.6 L1399.8 157.0 L1401.0 158.7" stroke="#5ab0e8" stroke-opacity="0.3" stroke-width="4.2"/><path d="M1143.0 174.3 L1144.1 172.9 L1145.2 167.3 L1146.4 165.4 L1147.5 173.4 L1148.6 176.1 L1149.7 183.3 L1150.8 177.6 L1151.9 167.9 L1153.1 163.2 L1154.2 165.6 L1155.3 157.7 L1156.4 162.9 L1157.5 158.7 L1158.6 160.6 L1159.8 167.8 L1160.9 167.1 L1162.0 172.1 L1163.1 165.1 L1164.2 155.4 L1165.3 158.0 L1166.5 164.2 L1167.6 162.9 L1168.7 173.5 L1169.8 170.8 L1170.9 177.7 L1172.0 176.1 L1173.2 166.6 L1174.3 163.2 L1175.4 168.3 L1176.5 167.2 L1177.6 176.2 L1178.7 176.6 L1179.9 170.3 L1181.0 174.3 L1182.1 166.9 L1183.2 167.7 L1184.3 159.4 L1185.4 161.7 L1186.6 156.5 L1187.7 162.3 L1188.8 173.0 L1189.9 176.9 L1191.0 188.7 L1192.1 192.2 L1193.3 181.9 L1194.4 180.8 L1195.5 169.7 L1196.6 168.0 L1197.7 157.6 L1198.8 160.7 L1200.0 172.2 L1201.1 171.0 L1202.2 182.3 L1203.3 185.5 L1204.4 178.4 L1205.5 177.9 L1206.7 168.1 L1207.8 166.4 L1208.9 158.3 L1210.0 158.1 L1211.1 149.8 L1212.2 153.9 L1213.4 160.8 L1214.5 162.2 L1215.6 171.5 L1216.7 172.5 L1217.8 179.9 L1218.9 178.8 L1220.1 171.4 L1221.2 169.9 L1222.3 176.3 L1223.4 173.7 L1224.5 179.7 L1225.6 178.9 L1226.8 185.6 L1227.9 185.5 L1229.0 175.8 L1230.1 171.3 L1231.2 158.3 L1232.3 155.1 L1233.5 145.3 L1234.6 148.8 L1235.7 160.7 L1236.8 163.2 L1237.9 160.7 L1239.0 161.4 L1240.2 157.5 L1241.3 157.6 L1242.4 166.0 L1243.5 165.6 L1244.6 175.0 L1245.7 178.8 L1246.9 174.6 L1248.0 175.3 L1249.1 169.4 L1250.2 170.1 L1251.3 163.8 L1252.4 164.3 L1253.6 171.6 L1254.7 168.2 L1255.8 178.7 L1256.9 175.8 L1258.0 183.3 L1259.1 180.1 L1260.3 173.6 L1261.4 174.9 L1262.5 164.1 L1263.6 163.2 L1264.7 168.9 L1265.9 167.0 L1267.0 174.3 L1268.0 172.8 L1269.0 162.7 L1270.0 163.5 L1271.0 157.6 L1272.1 161.8 L1273.2 170.9 L1274.4 174.3 L1275.5 173.9 L1276.6 177.8 L1277.7 176.6 L1278.8 164.5 L1279.9 159.8 L1281.1 162.7 L1282.2 161.2 L1283.3 163.2 L1284.4 156.6 L1285.5 146.8 L1286.6 143.7 L1287.8 133.0 L1288.9 130.0 L1290.0 132.5 L1291.1 128.6 L1292.2 128.6 L1293.3 119.6 L1294.5 101.2 L1295.6 90.6 L1296.7 96.8 L1297.8 99.1 L1298.9 105.8 L1300.0 109.6 L1301.2 123.2 L1302.3 142.2 L1303.4 154.2 L1304.5 156.0 L1305.6 161.1 L1306.7 163.2 L1307.9 166.9 L1309.0 176.6 L1310.1 181.0 L1311.2 180.6 L1312.3 188.9 L1313.4 188.7 L1314.6 194.4 L1315.7 190.5 L1316.8 178.3 L1317.9 173.2 L1319.0 173.6 L1320.1 164.3 L1321.3 163.2 L1322.4 168.1 L1323.5 167.8 L1324.6 173.2 L1325.7 176.4 L1326.8 175.6 L1328.0 181.5 L1329.1 182.2 L1330.2 173.9 L1331.3 175.8 L1332.4 167.6 L1333.5 173.5 L1334.7 184.9 L1335.8 192.2 L1336.9 182.5 L1338.0 177.4 L1339.1 167.6 L1340.2 173.7 L1341.4 184.0 L1342.5 190.0 L1343.6 192.5 L1344.7 203.1 L1345.8 207.9 L1346.9 221.8 L1348.1 241.2 L1349.2 252.5 L1350.3 238.1 L1351.4 232.5 L1352.5 216.8 L1353.6 208.1 L1354.8 206.9 L1355.9 196.7 L1357.0 187.2 L1358.1 186.5 L1359.2 176.6 L1360.3 165.7 L1361.5 160.9 L1362.6 166.9 L1363.7 167.3 L1364.8 172.1 L1365.9 169.6 L1367.0 160.9 L1368.2 163.9 L1369.3 156.5 L1370.4 146.2 L1371.5 143.1 L1372.6 161.6 L1373.7 176.6 L1374.9 167.8 L1376.0 167.7 L1377.1 155.8 L1378.2 155.7 L1379.3 146.4 L1380.4 148.3 L1381.6 157.7 L1382.7 156.3 L1383.8 165.0 L1384.9 167.6 L1386.0 166.5 L1387.1 176.2 L1388.3 173.9 L1389.4 181.0 L1390.5 176.1 L1391.6 182.2 L1392.7 180.2 L1393.9 171.7 L1395.0 171.4 L1396.1 163.2 L1397.3 160.9 L1398.5 164.6 L1399.8 157.0 L1401.0 158.7" stroke="#1d5f9c" stroke-width="2.15"/></g>
<path d="M1247.0 62.0v2.6M1247.0 277.0v-2.6M1349.6 62.0v2.6M1349.6 277.0v-2.6M1143.9 169.6h2.6M1401.3 169.6h-2.6" stroke="#222" stroke-width="1.5" fill="none"/>
<rect x="1143.9" y="62.0" width="257.4" height="215.0" fill="none" stroke="#1c1c1c" stroke-width="2.0" stroke-linejoin="round"/>
<text x="1132.7" y="72.1" text-anchor="end" class="tk">20</text>
<text x="1132.7" y="181.1" text-anchor="end" class="tk">0</text>
<text x="1132.7" y="288.5" text-anchor="end" class="tk">-20</text>
<text x="1143.9" y="312.9" text-anchor="middle" class="tk">16</text>
<text x="1247.0" y="312.9" text-anchor="middle" class="tk">18</text>
<text x="1349.6" y="312.9" text-anchor="middle" class="tk">20</text>
<text transform="translate(57.6 169.5) rotate(-90)" text-anchor="middle" class="lb">pressure[a.u.]</text>
<path d="M222.4 363.4V578.2M325.7 363.4V578.2M119.6 471.7H376.9" stroke="#cfcfcf" stroke-width="1.05" fill="none"/>
<g clip-path="url(#c10)" fill="none" stroke-linejoin="round" stroke-linecap="round"><path d="M119.0 573.0 L120.7 572.9 L123.0 572.6 L125.7 572.4 L128.3 572.1 L130.3 571.8 L132.3 571.5 L134.5 571.3 L137.5 571.2 L141.6 571.2 L146.5 571.4 L151.6 571.7 L156.0 572.1 L159.6 572.8 L162.8 573.8 L165.9 574.6 L169.0 574.9 L172.2 574.3 L175.3 573.0 L178.5 571.8 L181.9 571.2 L185.5 571.5 L189.2 572.3 L193.0 573.2 L196.7 574.0 L200.5 574.3 L204.4 574.5 L208.1 574.7 L211.5 574.9 L214.4 575.1 L217.0 575.3 L219.5 575.6 L222.6 575.8 L226.6 576.6 L231.1 577.9 L235.5 578.3 L239.3 576.7 L242.2 571.9 L244.5 564.6 L246.5 557.2 L248.5 551.7 L250.5 549.4 L252.4 548.7 L254.2 548.2 L255.9 546.2 L257.6 541.2 L259.1 534.3 L260.7 528.1 L262.4 524.9 L264.4 525.9 L266.6 529.6 L268.8 534.4 L270.7 538.8 L272.3 542.3 L273.7 545.9 L275.0 549.6 L276.3 553.6 L277.6 558.3 L279.0 563.6 L280.3 568.5 L281.8 572.1 L283.4 574.0 L285.0 574.7 L286.8 574.8 L289.2 574.9 L292.3 574.9 L296.0 574.6 L299.9 574.2 L304.0 574.0 L308.6 573.9 L313.6 574.0 L318.5 574.1 L322.6 574.0 L325.5 573.7 L327.8 573.3 L329.7 572.7 L331.8 572.1 L334.1 571.2 L336.3 570.1 L338.6 569.1 L341.1 568.4 L343.8 568.0 L346.7 567.9 L349.6 568.0 L352.2 568.4 L354.2 569.4 L356.0 570.8 L357.7 572.2 L359.6 573.0 L361.7 572.9 L364.1 572.3 L366.5 571.5 L368.8 571.2 L371.3 571.4 L374.0 572.0 L376.4 572.6 L378.1 573.0" stroke="#5ab0e8" stroke-opacity="0.3" stroke-width="3.6"/><path d="M119.0 573.0 L120.7 572.9 L123.0 572.6 L125.7 572.4 L128.3 572.1 L130.3 571.8 L132.3 571.5 L134.5 571.3 L137.5 571.2 L141.6 571.2 L146.5 571.4 L151.6 571.7 L156.0 572.1 L159.6 572.8 L162.8 573.8 L165.9 574.6 L169.0 574.9 L172.2 574.3 L175.3 573.0 L178.5 571.8 L181.9 571.2 L185.5 571.5 L189.2 572.3 L193.0 573.2 L196.7 574.0 L200.5 574.3 L204.4 574.5 L208.1 574.7 L211.5 574.9 L214.4 575.1 L217.0 575.3 L219.5 575.6 L222.6 575.8 L226.6 576.6 L231.1 577.9 L235.5 578.3 L239.3 576.7 L242.2 571.9 L244.5 564.6 L246.5 557.2 L248.5 551.7 L250.5 549.4 L252.4 548.7 L254.2 548.2 L255.9 546.2 L257.6 541.2 L259.1 534.3 L260.7 528.1 L262.4 524.9 L264.4 525.9 L266.6 529.6 L268.8 534.4 L270.7 538.8 L272.3 542.3 L273.7 545.9 L275.0 549.6 L276.3 553.6 L277.6 558.3 L279.0 563.6 L280.3 568.5 L281.8 572.1 L283.4 574.0 L285.0 574.7 L286.8 574.8 L289.2 574.9 L292.3 574.9 L296.0 574.6 L299.9 574.2 L304.0 574.0 L308.6 573.9 L313.6 574.0 L318.5 574.1 L322.6 574.0 L325.5 573.7 L327.8 573.3 L329.7 572.7 L331.8 572.1 L334.1 571.2 L336.3 570.1 L338.6 569.1 L341.1 568.4 L343.8 568.0 L346.7 567.9 L349.6 568.0 L352.2 568.4 L354.2 569.4 L356.0 570.8 L357.7 572.2 L359.6 573.0 L361.7 572.9 L364.1 572.3 L366.5 571.5 L368.8 571.2 L371.3 571.4 L374.0 572.0 L376.4 572.6 L378.1 573.0" stroke="#1d5f9c" stroke-width="1.85"/></g>
<path d="M222.4 363.4v2.6M222.4 578.2v-2.6M325.7 363.4v2.6M325.7 578.2v-2.6M119.6 471.7h2.6M376.9 471.7h-2.6" stroke="#222" stroke-width="1.5" fill="none"/>
<rect x="119.6" y="363.4" width="257.3" height="214.8" fill="none" stroke="#1c1c1c" stroke-width="2.0" stroke-linejoin="round"/>
<text x="108.4" y="373.5" text-anchor="end" class="tk">100</text>
<text x="108.4" y="483.2" text-anchor="end" class="tk">50</text>
<text x="108.4" y="589.7" text-anchor="end" class="tk">0</text>
<text x="119.6" y="614.1" text-anchor="middle" class="tk">16</text>
<text x="222.4" y="614.1" text-anchor="middle" class="tk">18</text>
<text x="325.7" y="614.1" text-anchor="middle" class="tk">20</text>
<path d="M564.6 363.4V578.2M667.5 363.4V578.2M461.6 471.7H716.9" stroke="#cfcfcf" stroke-width="1.05" fill="none"/>
<g clip-path="url(#c11)" fill="none" stroke-linejoin="round" stroke-linecap="round"><path d="M461.0 572.1 L463.1 572.3 L466.1 572.6 L469.3 572.9 L472.1 573.0 L474.2 572.9 L475.9 572.6 L477.6 572.2 L479.5 572.1 L481.7 572.2 L484.1 572.4 L486.5 572.7 L488.8 573.0 L490.7 573.6 L492.3 574.2 L494.1 574.8 L496.2 574.9 L498.7 574.3 L501.6 573.2 L504.5 572.0 L507.3 571.2 L509.7 570.7 L512.0 570.4 L514.2 570.2 L516.5 570.3 L518.8 570.6 L521.1 571.2 L523.5 571.8 L525.8 572.1 L528.1 572.0 L530.4 571.8 L532.7 571.4 L535.0 571.2 L537.3 571.1 L539.6 571.0 L542.0 571.0 L544.3 571.2 L546.5 571.5 L548.8 572.0 L551.1 572.6 L553.5 573.0 L556.1 573.4 L558.7 573.7 L561.5 573.9 L564.6 574.0 L568.3 574.0 L572.5 574.0 L576.4 573.7 L579.4 573.0 L581.1 572.3 L582.0 571.5 L582.5 569.8 L583.1 566.6 L584.1 561.5 L585.0 555.2 L585.9 547.5 L586.8 538.8 L587.7 527.6 L588.6 514.4 L589.5 501.8 L590.5 492.5 L591.8 489.8 L593.2 491.3 L594.7 491.5 L596.1 485.1 L597.5 468.1 L599.0 444.2 L600.4 419.5 L601.6 400.0 L602.5 387.2 L603.2 377.9 L603.8 371.3 L604.4 366.7 L605.1 364.3 L605.7 364.5 L606.4 366.2 L607.2 368.6 L608.0 370.6 L608.9 373.2 L609.8 377.6 L610.9 385.2 L612.2 398.6 L613.7 416.2 L615.1 433.6 L616.4 446.3 L617.5 451.1 L618.4 451.2 L619.3 451.2 L620.1 455.5 L621.1 466.0 L622.0 479.9 L622.9 495.6 L623.8 511.0 L624.6 527.7 L625.3 545.8 L626.2 562.3 L627.5 574.0 L629.5 579.0 L631.8 579.5 L634.4 577.9 L636.8 576.7 L638.9 576.2 L640.8 575.1 L643.1 573.8 L646.0 573.0 L650.2 572.7 L655.3 572.7 L660.4 572.9 L664.6 573.0 L667.5 573.2 L669.8 573.4 L671.7 573.6 L673.8 574.0 L676.0 574.4 L678.2 574.9 L680.5 575.5 L683.1 575.8 L686.2 576.1 L689.7 576.3 L693.1 576.2 L696.0 575.8 L698.3 574.8 L700.1 573.3 L701.7 571.6 L703.4 570.3 L705.2 569.1 L707.0 568.1 L708.8 567.2 L710.8 566.6 L713.2 566.3 L715.9 566.3 L718.4 566.5 L720.1 566.6" stroke="#5ab0e8" stroke-opacity="0.3" stroke-width="3.6"/><path d="M461.0 572.1 L463.1 572.3 L466.1 572.6 L469.3 572.9 L472.1 573.0 L474.2 572.9 L475.9 572.6 L477.6 572.2 L479.5 572.1 L481.7 572.2 L484.1 572.4 L486.5 572.7 L488.8 573.0 L490.7 573.6 L492.3 574.2 L494.1 574.8 L496.2 574.9 L498.7 574.3 L501.6 573.2 L504.5 572.0 L507.3 571.2 L509.7 570.7 L512.0 570.4 L514.2 570.2 L516.5 570.3 L518.8 570.6 L521.1 571.2 L523.5 571.8 L525.8 572.1 L528.1 572.0 L530.4 571.8 L532.7 571.4 L535.0 571.2 L537.3 571.1 L539.6 571.0 L542.0 571.0 L544.3 571.2 L546.5 571.5 L548.8 572.0 L551.1 572.6 L553.5 573.0 L556.1 573.4 L558.7 573.7 L561.5 573.9 L564.6 574.0 L568.3 574.0 L572.5 574.0 L576.4 573.7 L579.4 573.0 L581.1 572.3 L582.0 571.5 L582.5 569.8 L583.1 566.6 L584.1 561.5 L585.0 555.2 L585.9 547.5 L586.8 538.8 L587.7 527.6 L588.6 514.4 L589.5 501.8 L590.5 492.5 L591.8 489.8 L593.2 491.3 L594.7 491.5 L596.1 485.1 L597.5 468.1 L599.0 444.2 L600.4 419.5 L601.6 400.0 L602.5 387.2 L603.2 377.9 L603.8 371.3 L604.4 366.7 L605.1 364.3 L605.7 364.5 L606.4 366.2 L607.2 368.6 L608.0 370.6 L608.9 373.2 L609.8 377.6 L610.9 385.2 L612.2 398.6 L613.7 416.2 L615.1 433.6 L616.4 446.3 L617.5 451.1 L618.4 451.2 L619.3 451.2 L620.1 455.5 L621.1 466.0 L622.0 479.9 L622.9 495.6 L623.8 511.0 L624.6 527.7 L625.3 545.8 L626.2 562.3 L627.5 574.0 L629.5 579.0 L631.8 579.5 L634.4 577.9 L636.8 576.7 L638.9 576.2 L640.8 575.1 L643.1 573.8 L646.0 573.0 L650.2 572.7 L655.3 572.7 L660.4 572.9 L664.6 573.0 L667.5 573.2 L669.8 573.4 L671.7 573.6 L673.8 574.0 L676.0 574.4 L678.2 574.9 L680.5 575.5 L683.1 575.8 L686.2 576.1 L689.7 576.3 L693.1 576.2 L696.0 575.8 L698.3 574.8 L700.1 573.3 L701.7 571.6 L703.4 570.3 L705.2 569.1 L707.0 568.1 L708.8 567.2 L710.8 566.6 L713.2 566.3 L715.9 566.3 L718.4 566.5 L720.1 566.6" stroke="#1d5f9c" stroke-width="1.85"/></g>
<path d="M564.6 363.4v2.6M564.6 578.2v-2.6M667.5 363.4v2.6M667.5 578.2v-2.6M461.6 471.7h2.6M716.9 471.7h-2.6" stroke="#222" stroke-width="1.5" fill="none"/>
<rect x="461.6" y="363.4" width="255.3" height="214.8" fill="none" stroke="#1c1c1c" stroke-width="2.0" stroke-linejoin="round"/>
<text x="450.4" y="373.5" text-anchor="end" class="tk">100</text>
<text x="450.4" y="483.2" text-anchor="end" class="tk">50</text>
<text x="450.4" y="589.7" text-anchor="end" class="tk">0</text>
<text x="461.6" y="614.1" text-anchor="middle" class="tk">16</text>
<text x="564.6" y="614.1" text-anchor="middle" class="tk">18</text>
<text x="667.5" y="614.1" text-anchor="middle" class="tk">20</text>
<path d="M904.7 363.4V578.2M1007.6 363.4V578.2M801.9 471.7H1059.4" stroke="#cfcfcf" stroke-width="1.05" fill="none"/>
<g clip-path="url(#c12)" fill="none" stroke-linejoin="round" stroke-linecap="round"><path d="M801.0 574.0 L804.3 574.1 L809.1 574.4 L814.4 574.6 L819.5 574.9 L824.1 575.1 L828.8 575.4 L833.4 575.6 L838.0 575.8 L842.6 575.9 L847.3 575.9 L851.9 575.9 L856.5 575.8 L861.2 575.6 L866.0 575.4 L870.7 575.1 L875.0 574.9 L879.2 574.7 L883.2 574.6 L886.9 574.4 L889.8 574.0 L891.9 573.4 L893.3 572.7 L894.3 571.8 L895.4 570.3 L896.4 568.6 L897.2 566.7 L898.1 563.8 L899.1 559.2 L900.4 551.7 L901.9 542.1 L903.3 532.3 L904.6 524.0 L905.6 517.4 L906.2 511.7 L907.1 507.0 L908.3 503.6 L910.3 502.3 L912.8 502.8 L915.4 503.4 L917.6 502.7 L919.2 501.0 L920.6 498.7 L921.8 495.0 L923.1 488.8 L924.5 478.6 L925.9 465.3 L927.3 451.7 L928.7 440.7 L930.1 432.9 L931.6 426.8 L933.0 422.2 L934.2 418.5 L935.2 416.2 L935.9 415.3 L936.7 415.0 L937.9 414.8 L940.0 414.4 L942.6 414.1 L945.1 414.2 L947.2 414.8 L948.5 415.5 L949.3 416.4 L950.0 418.4 L950.9 422.2 L952.2 428.9 L953.7 437.7 L955.1 447.1 L956.4 455.5 L957.4 463.1 L958.1 470.4 L958.9 476.8 L960.1 481.4 L962.2 483.4 L964.7 483.4 L967.2 482.9 L969.4 483.3 L971.1 484.6 L972.5 486.3 L973.8 488.7 L974.9 492.5 L976.0 498.0 L976.8 504.7 L977.6 512.3 L978.6 520.3 L979.9 529.5 L981.4 539.7 L982.9 549.5 L984.2 557.3 L985.2 562.5 L985.9 566.0 L986.8 568.4 L987.9 570.3 L989.4 571.5 L991.3 571.9 L993.2 572.0 L995.3 572.1 L997.5 572.4 L999.8 572.6 L1002.2 572.8 L1004.6 573.0 L1006.9 573.3 L1009.2 573.7 L1011.5 574.0 L1013.8 574.0 L1016.1 573.5 L1018.4 572.6 L1020.7 571.8 L1023.1 571.2 L1025.3 571.0 L1027.5 571.1 L1029.7 571.2 L1032.3 571.2 L1035.4 571.2 L1038.9 571.2 L1042.3 571.0 L1045.3 570.3 L1047.5 568.5 L1049.3 566.1 L1050.9 563.7 L1052.7 561.9 L1054.7 561.2 L1056.8 560.9 L1058.7 561.0 L1060.1 561.0" stroke="#5ab0e8" stroke-opacity="0.3" stroke-width="3.6"/><path d="M801.0 574.0 L804.3 574.1 L809.1 574.4 L814.4 574.6 L819.5 574.9 L824.1 575.1 L828.8 575.4 L833.4 575.6 L838.0 575.8 L842.6 575.9 L847.3 575.9 L851.9 575.9 L856.5 575.8 L861.2 575.6 L866.0 575.4 L870.7 575.1 L875.0 574.9 L879.2 574.7 L883.2 574.6 L886.9 574.4 L889.8 574.0 L891.9 573.4 L893.3 572.7 L894.3 571.8 L895.4 570.3 L896.4 568.6 L897.2 566.7 L898.1 563.8 L899.1 559.2 L900.4 551.7 L901.9 542.1 L903.3 532.3 L904.6 524.0 L905.6 517.4 L906.2 511.7 L907.1 507.0 L908.3 503.6 L910.3 502.3 L912.8 502.8 L915.4 503.4 L917.6 502.7 L919.2 501.0 L920.6 498.7 L921.8 495.0 L923.1 488.8 L924.5 478.6 L925.9 465.3 L927.3 451.7 L928.7 440.7 L930.1 432.9 L931.6 426.8 L933.0 422.2 L934.2 418.5 L935.2 416.2 L935.9 415.3 L936.7 415.0 L937.9 414.8 L940.0 414.4 L942.6 414.1 L945.1 414.2 L947.2 414.8 L948.5 415.5 L949.3 416.4 L950.0 418.4 L950.9 422.2 L952.2 428.9 L953.7 437.7 L955.1 447.1 L956.4 455.5 L957.4 463.1 L958.1 470.4 L958.9 476.8 L960.1 481.4 L962.2 483.4 L964.7 483.4 L967.2 482.9 L969.4 483.3 L971.1 484.6 L972.5 486.3 L973.8 488.7 L974.9 492.5 L976.0 498.0 L976.8 504.7 L977.6 512.3 L978.6 520.3 L979.9 529.5 L981.4 539.7 L982.9 549.5 L984.2 557.3 L985.2 562.5 L985.9 566.0 L986.8 568.4 L987.9 570.3 L989.4 571.5 L991.3 571.9 L993.2 572.0 L995.3 572.1 L997.5 572.4 L999.8 572.6 L1002.2 572.8 L1004.6 573.0 L1006.9 573.3 L1009.2 573.7 L1011.5 574.0 L1013.8 574.0 L1016.1 573.5 L1018.4 572.6 L1020.7 571.8 L1023.1 571.2 L1025.3 571.0 L1027.5 571.1 L1029.7 571.2 L1032.3 571.2 L1035.4 571.2 L1038.9 571.2 L1042.3 571.0 L1045.3 570.3 L1047.5 568.5 L1049.3 566.1 L1050.9 563.7 L1052.7 561.9 L1054.7 561.2 L1056.8 560.9 L1058.7 561.0 L1060.1 561.0" stroke="#1d5f9c" stroke-width="1.85"/></g>
<path d="M904.7 363.4v2.6M904.7 578.2v-2.6M1007.6 363.4v2.6M1007.6 578.2v-2.6M801.9 471.7h2.6M1059.4 471.7h-2.6" stroke="#222" stroke-width="1.5" fill="none"/>
<rect x="801.9" y="363.4" width="257.5" height="214.8" fill="none" stroke="#1c1c1c" stroke-width="2.0" stroke-linejoin="round"/>
<text x="790.7" y="373.5" text-anchor="end" class="tk">100</text>
<text x="790.7" y="483.2" text-anchor="end" class="tk">50</text>
<text x="790.7" y="589.7" text-anchor="end" class="tk">0</text>
<text x="801.9" y="614.1" text-anchor="middle" class="tk">16</text>
<text x="904.7" y="614.1" text-anchor="middle" class="tk">18</text>
<text x="1007.6" y="614.1" text-anchor="middle" class="tk">20</text>
<path d="M1247.0 363.4V578.2M1349.6 363.4V578.2M1143.9 471.7H1401.3" stroke="#cfcfcf" stroke-width="1.05" fill="none"/>
<g clip-path="url(#c13)" fill="none" stroke-linejoin="round" stroke-linecap="round"><path d="M1143.0 573.0 L1146.3 572.8 L1151.1 572.6 L1156.4 572.3 L1161.5 572.1 L1166.2 572.0 L1171.0 572.0 L1175.6 572.0 L1180.0 572.1 L1184.1 572.3 L1187.9 572.5 L1191.5 572.8 L1194.8 573.0 L1197.9 573.5 L1200.8 574.0 L1203.5 574.3 L1205.9 574.0 L1208.1 573.0 L1210.1 571.5 L1211.8 569.4 L1213.3 566.6 L1214.5 562.7 L1215.3 558.0 L1216.1 552.9 L1217.0 548.0 L1218.1 543.0 L1219.2 537.7 L1220.6 532.9 L1222.6 529.5 L1225.2 528.1 L1228.2 527.9 L1231.7 528.4 L1235.5 528.6 L1240.0 528.6 L1245.0 528.7 L1249.9 528.7 L1254.0 528.6 L1257.1 528.6 L1259.5 528.7 L1261.4 528.2 L1263.3 526.8 L1265.0 523.9 L1266.4 519.9 L1267.7 515.5 L1268.8 511.0 L1269.8 506.4 L1270.7 501.3 L1271.5 496.5 L1272.5 492.5 L1273.7 489.5 L1275.1 487.2 L1276.5 485.5 L1278.1 484.2 L1279.8 483.4 L1281.7 483.2 L1283.6 483.4 L1285.5 484.2 L1287.4 485.6 L1289.4 487.4 L1291.3 489.8 L1292.9 492.5 L1294.0 495.7 L1294.9 499.3 L1295.6 503.2 L1296.6 507.3 L1297.8 512.1 L1299.1 517.4 L1300.6 522.3 L1302.1 525.8 L1303.6 527.5 L1305.0 527.9 L1306.9 527.7 L1309.5 527.7 L1313.5 528.0 L1318.3 528.3 L1323.4 528.5 L1328.0 528.6 L1332.3 528.5 L1336.4 528.3 L1340.0 528.2 L1342.9 528.6 L1344.5 529.2 L1345.3 529.9 L1345.8 531.6 L1346.6 535.1 L1347.8 541.8 L1349.2 550.8 L1350.7 559.8 L1352.1 566.6 L1353.5 570.3 L1354.9 572.3 L1356.3 573.3 L1357.7 574.0 L1358.9 574.4 L1360.1 574.2 L1361.4 573.4 L1363.2 572.1 L1365.6 569.7 L1368.5 566.4 L1371.5 563.1 L1374.3 561.0 L1376.5 560.4 L1378.5 560.8 L1380.6 561.5 L1383.6 561.9 L1388.0 561.8 L1393.4 561.5 L1398.5 561.2 L1402.1 561.0" stroke="#5ab0e8" stroke-opacity="0.3" stroke-width="3.6"/><path d="M1143.0 573.0 L1146.3 572.8 L1151.1 572.6 L1156.4 572.3 L1161.5 572.1 L1166.2 572.0 L1171.0 572.0 L1175.6 572.0 L1180.0 572.1 L1184.1 572.3 L1187.9 572.5 L1191.5 572.8 L1194.8 573.0 L1197.9 573.5 L1200.8 574.0 L1203.5 574.3 L1205.9 574.0 L1208.1 573.0 L1210.1 571.5 L1211.8 569.4 L1213.3 566.6 L1214.5 562.7 L1215.3 558.0 L1216.1 552.9 L1217.0 548.0 L1218.1 543.0 L1219.2 537.7 L1220.6 532.9 L1222.6 529.5 L1225.2 528.1 L1228.2 527.9 L1231.7 528.4 L1235.5 528.6 L1240.0 528.6 L1245.0 528.7 L1249.9 528.7 L1254.0 528.6 L1257.1 528.6 L1259.5 528.7 L1261.4 528.2 L1263.3 526.8 L1265.0 523.9 L1266.4 519.9 L1267.7 515.5 L1268.8 511.0 L1269.8 506.4 L1270.7 501.3 L1271.5 496.5 L1272.5 492.5 L1273.7 489.5 L1275.1 487.2 L1276.5 485.5 L1278.1 484.2 L1279.8 483.4 L1281.7 483.2 L1283.6 483.4 L1285.5 484.2 L1287.4 485.6 L1289.4 487.4 L1291.3 489.8 L1292.9 492.5 L1294.0 495.7 L1294.9 499.3 L1295.6 503.2 L1296.6 507.3 L1297.8 512.1 L1299.1 517.4 L1300.6 522.3 L1302.1 525.8 L1303.6 527.5 L1305.0 527.9 L1306.9 527.7 L1309.5 527.7 L1313.5 528.0 L1318.3 528.3 L1323.4 528.5 L1328.0 528.6 L1332.3 528.5 L1336.4 528.3 L1340.0 528.2 L1342.9 528.6 L1344.5 529.2 L1345.3 529.9 L1345.8 531.6 L1346.6 535.1 L1347.8 541.8 L1349.2 550.8 L1350.7 559.8 L1352.1 566.6 L1353.5 570.3 L1354.9 572.3 L1356.3 573.3 L1357.7 574.0 L1358.9 574.4 L1360.1 574.2 L1361.4 573.4 L1363.2 572.1 L1365.6 569.7 L1368.5 566.4 L1371.5 563.1 L1374.3 561.0 L1376.5 560.4 L1378.5 560.8 L1380.6 561.5 L1383.6 561.9 L1388.0 561.8 L1393.4 561.5 L1398.5 561.2 L1402.1 561.0" stroke="#1d5f9c" stroke-width="1.85"/></g>
<path d="M1247.0 363.4v2.6M1247.0 578.2v-2.6M1349.6 363.4v2.6M1349.6 578.2v-2.6M1143.9 471.7h2.6M1401.3 471.7h-2.6" stroke="#222" stroke-width="1.5" fill="none"/>
<rect x="1143.9" y="363.4" width="257.4" height="214.8" fill="none" stroke="#1c1c1c" stroke-width="2.0" stroke-linejoin="round"/>
<text x="1132.7" y="373.5" text-anchor="end" class="tk">100</text>
<text x="1132.7" y="483.2" text-anchor="end" class="tk">50</text>
<text x="1132.7" y="589.7" text-anchor="end" class="tk">0</text>
<text x="1143.9" y="614.1" text-anchor="middle" class="tk">16</text>
<text x="1247.0" y="614.1" text-anchor="middle" class="tk">18</text>
<text x="1349.6" y="614.1" text-anchor="middle" class="tk">20</text>
<text transform="translate(51.8 470.8) rotate(-90)" text-anchor="middle" class="lb">power[a.u.]</text>
<path d="M222.4 664.8V879.6M325.7 664.8V879.6M119.6 694.1H376.9M119.6 772.4H376.9M119.6 850.5H376.9" stroke="#cfcfcf" stroke-width="1.05" fill="none"/>
<g clip-path="url(#c20)" fill="none" stroke-linejoin="round" stroke-linecap="round"><path d="M119.6 772.5 L229.5 772.5 L229.9 768.9 L230.4 763.8 L231.0 757.9 L231.7 751.6 L232.3 745.6 L232.9 740.5 L233.5 735.5 L234.1 730.0 L234.7 724.9 L235.2 720.7 L235.8 718.3 L236.4 718.5 L237.0 721.5 L237.5 726.8 L238.1 733.8 L238.7 742.2 L239.3 751.4 L239.8 761.1 L240.3 773.0 L240.7 787.9 L241.1 803.7 L241.6 818.3 L242.0 829.5 L242.6 835.2 L243.2 834.3 L243.8 828.2 L244.5 818.8 L245.2 807.9 L245.9 797.2 L246.7 788.5 L247.4 781.3 L248.3 773.7 L249.1 766.5 L250.0 760.0 L250.7 754.8 L251.5 751.5 L252.1 750.4 L252.7 751.2 L253.3 753.4 L253.9 756.2 L254.4 758.9 L254.9 761.1 L255.4 762.7 L255.8 764.4 L256.3 766.1 L256.7 767.8 L257.2 769.3 L257.7 770.7 L258.2 772.0 L258.7 773.2 L259.2 774.3 L259.8 775.2 L260.4 775.9 L261.1 776.2 L261.8 776.0 L262.6 775.5 L263.4 774.6 L264.3 773.6 L265.1 772.7 L265.9 772.1 L266.6 771.6 L267.3 771.1 L267.9 770.7 L268.6 770.3 L269.2 770.1 L270.0 770.0 L270.8 770.1 L271.7 770.4 L272.6 770.9 L273.5 771.3 L274.5 771.8 L275.5 772.1 L276.5 772.3 L277.4 772.4 L278.4 772.5 L279.5 772.6 L280.8 772.7 L282.4 772.8 L284.3 772.9 L286.5 773.1 L289.0 773.3 L291.5 773.4 L293.9 773.5 L296.1 773.4 L298.1 773.2 L300.0 772.8 L301.8 772.4 L303.6 771.9 L305.4 771.6 L307.1 771.4 L308.7 771.4 L310.2 771.6 L311.7 771.9 L313.3 772.3 L314.9 772.6 L316.7 772.8 L318.8 772.8 L321.3 772.9 L323.9 772.8 L326.4 772.8 L328.5 772.8 L330.0 772.8 L377.0 772.5" stroke="#5ab0e8" stroke-opacity="0.3" stroke-width="3.6"/><path d="M119.6 772.5 L229.5 772.5 L229.9 768.9 L230.4 763.8 L231.0 757.9 L231.7 751.6 L232.3 745.6 L232.9 740.5 L233.5 735.5 L234.1 730.0 L234.7 724.9 L235.2 720.7 L235.8 718.3 L236.4 718.5 L237.0 721.5 L237.5 726.8 L238.1 733.8 L238.7 742.2 L239.3 751.4 L239.8 761.1 L240.3 773.0 L240.7 787.9 L241.1 803.7 L241.6 818.3 L242.0 829.5 L242.6 835.2 L243.2 834.3 L243.8 828.2 L244.5 818.8 L245.2 807.9 L245.9 797.2 L246.7 788.5 L247.4 781.3 L248.3 773.7 L249.1 766.5 L250.0 760.0 L250.7 754.8 L251.5 751.5 L252.1 750.4 L252.7 751.2 L253.3 753.4 L253.9 756.2 L254.4 758.9 L254.9 761.1 L255.4 762.7 L255.8 764.4 L256.3 766.1 L256.7 767.8 L257.2 769.3 L257.7 770.7 L258.2 772.0 L258.7 773.2 L259.2 774.3 L259.8 775.2 L260.4 775.9 L261.1 776.2 L261.8 776.0 L262.6 775.5 L263.4 774.6 L264.3 773.6 L265.1 772.7 L265.9 772.1 L266.6 771.6 L267.3 771.1 L267.9 770.7 L268.6 770.3 L269.2 770.1 L270.0 770.0 L270.8 770.1 L271.7 770.4 L272.6 770.9 L273.5 771.3 L274.5 771.8 L275.5 772.1 L276.5 772.3 L277.4 772.4 L278.4 772.5 L279.5 772.6 L280.8 772.7 L282.4 772.8 L284.3 772.9 L286.5 773.1 L289.0 773.3 L291.5 773.4 L293.9 773.5 L296.1 773.4 L298.1 773.2 L300.0 772.8 L301.8 772.4 L303.6 771.9 L305.4 771.6 L307.1 771.4 L308.7 771.4 L310.2 771.6 L311.7 771.9 L313.3 772.3 L314.9 772.6 L316.7 772.8 L318.8 772.8 L321.3 772.9 L323.9 772.8 L326.4 772.8 L328.5 772.8 L330.0 772.8 L377.0 772.5" stroke="#1d5f9c" stroke-width="1.85"/></g>
<path d="M222.4 664.8v2.6M222.4 879.6v-2.6M325.7 664.8v2.6M325.7 879.6v-2.6M119.6 694.1h2.6M376.9 694.1h-2.6M119.6 772.4h2.6M376.9 772.4h-2.6M119.6 850.5h2.6M376.9 850.5h-2.6" stroke="#222" stroke-width="1.5" fill="none"/>
<rect x="119.6" y="664.8" width="257.3" height="214.8" fill="none" stroke="#1c1c1c" stroke-width="2.0" stroke-linejoin="round"/>
<text x="108.4" y="705.6" text-anchor="end" class="tk">50</text>
<text x="108.4" y="783.9" text-anchor="end" class="tk">0</text>
<text x="108.4" y="862.0" text-anchor="end" class="tk">-50</text>
<text x="119.6" y="915.5" text-anchor="middle" class="tk">14</text>
<text x="222.4" y="915.5" text-anchor="middle" class="tk">16</text>
<text x="325.7" y="915.5" text-anchor="middle" class="tk">18</text>
<path d="M564.6 664.8V879.6M667.5 664.8V879.6M461.6 694.1H716.9M461.6 772.4H716.9M461.6 850.5H716.9" stroke="#cfcfcf" stroke-width="1.05" fill="none"/>
<g clip-path="url(#c21)" fill="none" stroke-linejoin="round" stroke-linecap="round"><path d="M461.6 772.6 L570.9 772.5 L571.3 770.5 L571.8 767.9 L572.5 764.7 L573.1 761.1 L573.8 757.1 L574.3 752.9 L574.7 748.2 L575.1 743.2 L575.4 737.7 L575.7 732.0 L576.0 726.0 L576.4 719.9 L576.8 712.9 L577.3 704.7 L577.7 696.2 L578.2 688.5 L578.7 682.3 L579.1 678.7 L579.5 677.6 L579.8 678.1 L580.2 680.3 L580.5 683.9 L580.8 688.9 L581.2 695.2 L581.6 703.1 L582.0 712.9 L582.5 724.0 L583.0 736.1 L583.5 748.6 L583.9 761.1 L584.4 774.3 L584.9 788.6 L585.4 803.4 L585.8 817.9 L586.3 831.5 L586.7 843.4 L587.0 854.2 L587.3 864.5 L587.6 873.9 L587.8 881.8 L588.0 887.9 L588.3 891.5 L588.6 892.6 L588.9 891.5 L589.2 888.5 L589.5 883.9 L589.8 877.9 L590.1 870.9 L590.4 862.3 L590.7 851.7 L591.1 839.8 L591.4 827.2 L591.8 814.5 L592.2 802.3 L592.6 789.6 L593.1 775.7 L593.6 761.8 L594.1 748.7 L594.5 737.6 L594.9 729.5 L595.2 724.7 L595.4 722.6 L595.5 722.3 L595.7 723.4 L595.9 725.1 L596.3 726.8 L596.8 728.7 L597.4 731.5 L598.2 734.9 L598.9 738.8 L599.7 743.0 L600.4 747.4 L601.1 752.4 L601.8 758.4 L602.5 764.8 L603.1 770.7 L603.8 775.7 L604.5 778.9 L605.2 780.2 L605.9 779.8 L606.6 778.5 L607.3 776.6 L607.9 774.8 L608.6 773.4 L609.3 772.4 L610.0 771.3 L610.6 770.2 L611.3 769.2 L612.0 768.4 L612.8 768.0 L613.6 767.9 L614.5 768.3 L615.5 768.9 L616.5 769.5 L617.4 770.2 L618.2 770.7 L618.9 771.1 L619.4 771.5 L619.8 771.9 L620.3 772.3 L621.1 772.6 L622.4 772.8 L624.1 772.8 L626.1 772.8 L628.5 772.6 L631.0 772.5 L633.5 772.3 L636.1 772.1 L638.8 771.8 L641.7 771.5 L644.7 771.2 L647.6 770.9 L650.3 770.7 L652.6 770.7 L654.4 771.0 L655.9 771.5 L657.1 772.1 L658.3 772.7 L659.5 773.2 L660.8 773.4 L662.4 773.4 L664.1 773.2 L665.9 772.9 L667.6 772.6 L669.0 772.3 L670.0 772.1 L717.0 772.5" stroke="#5ab0e8" stroke-opacity="0.3" stroke-width="3.6"/><path d="M461.6 772.6 L570.9 772.5 L571.3 770.5 L571.8 767.9 L572.5 764.7 L573.1 761.1 L573.8 757.1 L574.3 752.9 L574.7 748.2 L575.1 743.2 L575.4 737.7 L575.7 732.0 L576.0 726.0 L576.4 719.9 L576.8 712.9 L577.3 704.7 L577.7 696.2 L578.2 688.5 L578.7 682.3 L579.1 678.7 L579.5 677.6 L579.8 678.1 L580.2 680.3 L580.5 683.9 L580.8 688.9 L581.2 695.2 L581.6 703.1 L582.0 712.9 L582.5 724.0 L583.0 736.1 L583.5 748.6 L583.9 761.1 L584.4 774.3 L584.9 788.6 L585.4 803.4 L585.8 817.9 L586.3 831.5 L586.7 843.4 L587.0 854.2 L587.3 864.5 L587.6 873.9 L587.8 881.8 L588.0 887.9 L588.3 891.5 L588.6 892.6 L588.9 891.5 L589.2 888.5 L589.5 883.9 L589.8 877.9 L590.1 870.9 L590.4 862.3 L590.7 851.7 L591.1 839.8 L591.4 827.2 L591.8 814.5 L592.2 802.3 L592.6 789.6 L593.1 775.7 L593.6 761.8 L594.1 748.7 L594.5 737.6 L594.9 729.5 L595.2 724.7 L595.4 722.6 L595.5 722.3 L595.7 723.4 L595.9 725.1 L596.3 726.8 L596.8 728.7 L597.4 731.5 L598.2 734.9 L598.9 738.8 L599.7 743.0 L600.4 747.4 L601.1 752.4 L601.8 758.4 L602.5 764.8 L603.1 770.7 L603.8 775.7 L604.5 778.9 L605.2 780.2 L605.9 779.8 L606.6 778.5 L607.3 776.6 L607.9 774.8 L608.6 773.4 L609.3 772.4 L610.0 771.3 L610.6 770.2 L611.3 769.2 L612.0 768.4 L612.8 768.0 L613.6 767.9 L614.5 768.3 L615.5 768.9 L616.5 769.5 L617.4 770.2 L618.2 770.7 L618.9 771.1 L619.4 771.5 L619.8 771.9 L620.3 772.3 L621.1 772.6 L622.4 772.8 L624.1 772.8 L626.1 772.8 L628.5 772.6 L631.0 772.5 L633.5 772.3 L636.1 772.1 L638.8 771.8 L641.7 771.5 L644.7 771.2 L647.6 770.9 L650.3 770.7 L652.6 770.7 L654.4 771.0 L655.9 771.5 L657.1 772.1 L658.3 772.7 L659.5 773.2 L660.8 773.4 L662.4 773.4 L664.1 773.2 L665.9 772.9 L667.6 772.6 L669.0 772.3 L670.0 772.1 L717.0 772.5" stroke="#1d5f9c" stroke-width="1.85"/></g>
<path d="M564.6 664.8v2.6M564.6 879.6v-2.6M667.5 664.8v2.6M667.5 879.6v-2.6M461.6 694.1h2.6M716.9 694.1h-2.6M461.6 772.4h2.6M716.9 772.4h-2.6M461.6 850.5h2.6M716.9 850.5h-2.6" stroke="#222" stroke-width="1.5" fill="none"/>
<rect x="461.6" y="664.8" width="255.3" height="214.8" fill="none" stroke="#1c1c1c" stroke-width="2.0" stroke-linejoin="round"/>
<text x="450.4" y="705.6" text-anchor="end" class="tk">50</text>
<text x="450.4" y="783.9" text-anchor="end" class="tk">0</text>
<text x="450.4" y="862.0" text-anchor="end" class="tk">-50</text>
<text x="461.6" y="915.5" text-anchor="middle" class="tk">14</text>
<text x="564.6" y="915.5" text-anchor="middle" class="tk">16</text>
<text x="667.5" y="915.5" text-anchor="middle" class="tk">18</text>
<path d="M904.7 664.8V879.6M1007.6 664.8V879.6M801.9 694.1H1059.4M801.9 772.4H1059.4M801.9 850.5H1059.4" stroke="#cfcfcf" stroke-width="1.05" fill="none"/>
<g clip-path="url(#c22)" fill="none" stroke-linejoin="round" stroke-linecap="round"><path d="M801.9 772.3 L912.3 772.3 L912.7 770.1 L913.4 767.4 L914.1 764.1 L914.9 759.7 L915.7 754.3 L916.4 747.4 L917.0 737.5 L917.6 724.6 L918.2 710.5 L918.7 697.2 L919.3 686.4 L919.8 680.1 L920.3 678.6 L920.8 680.3 L921.2 684.6 L921.7 690.9 L922.1 698.3 L922.6 706.2 L923.0 715.5 L923.4 726.9 L923.9 739.5 L924.3 752.3 L924.8 764.4 L925.3 774.8 L925.8 784.1 L926.4 793.1 L927.0 801.3 L927.6 808.4 L928.2 813.9 L928.7 817.4 L929.3 818.4 L929.8 817.2 L930.3 814.4 L930.9 810.6 L931.5 806.3 L932.2 802.3 L933.0 797.6 L933.9 791.8 L935.0 785.5 L935.9 779.6 L936.9 774.9 L937.7 772.1 L938.2 770.6 L938.7 769.8 L939.0 770.2 L939.4 772.2 L939.8 776.3 L940.4 783.1 L941.2 795.1 L942.1 812.4 L943.1 832.0 L944.1 850.4 L945.0 864.4 L945.9 870.9 L946.7 868.6 L947.4 859.8 L948.0 846.7 L948.7 831.3 L949.3 815.8 L950.0 802.3 L950.7 789.2 L951.4 774.5 L952.1 759.7 L952.8 746.1 L953.4 735.2 L954.1 728.1 L954.8 725.8 L955.4 727.3 L956.1 731.4 L956.8 736.9 L957.5 742.6 L958.2 747.4 L959.0 751.9 L959.9 757.2 L960.7 762.8 L961.6 768.0 L962.6 772.2 L963.7 774.8 L964.9 775.4 L966.2 774.5 L967.6 772.5 L969.0 770.2 L970.5 768.3 L972.0 767.3 L973.5 767.3 L975.1 768.0 L976.7 768.9 L978.3 769.9 L980.0 770.8 L981.6 771.4 L983.1 771.5 L984.4 771.5 L985.8 771.3 L987.3 771.0 L989.1 770.8 L991.2 770.7 L994.0 770.7 L997.5 770.7 L1001.2 770.8 L1004.8 770.9 L1007.8 770.9 L1010.0 771.0 L1059.4 772.3" stroke="#5ab0e8" stroke-opacity="0.3" stroke-width="3.6"/><path d="M801.9 772.3 L912.3 772.3 L912.7 770.1 L913.4 767.4 L914.1 764.1 L914.9 759.7 L915.7 754.3 L916.4 747.4 L917.0 737.5 L917.6 724.6 L918.2 710.5 L918.7 697.2 L919.3 686.4 L919.8 680.1 L920.3 678.6 L920.8 680.3 L921.2 684.6 L921.7 690.9 L922.1 698.3 L922.6 706.2 L923.0 715.5 L923.4 726.9 L923.9 739.5 L924.3 752.3 L924.8 764.4 L925.3 774.8 L925.8 784.1 L926.4 793.1 L927.0 801.3 L927.6 808.4 L928.2 813.9 L928.7 817.4 L929.3 818.4 L929.8 817.2 L930.3 814.4 L930.9 810.6 L931.5 806.3 L932.2 802.3 L933.0 797.6 L933.9 791.8 L935.0 785.5 L935.9 779.6 L936.9 774.9 L937.7 772.1 L938.2 770.6 L938.7 769.8 L939.0 770.2 L939.4 772.2 L939.8 776.3 L940.4 783.1 L941.2 795.1 L942.1 812.4 L943.1 832.0 L944.1 850.4 L945.0 864.4 L945.9 870.9 L946.7 868.6 L947.4 859.8 L948.0 846.7 L948.7 831.3 L949.3 815.8 L950.0 802.3 L950.7 789.2 L951.4 774.5 L952.1 759.7 L952.8 746.1 L953.4 735.2 L954.1 728.1 L954.8 725.8 L955.4 727.3 L956.1 731.4 L956.8 736.9 L957.5 742.6 L958.2 747.4 L959.0 751.9 L959.9 757.2 L960.7 762.8 L961.6 768.0 L962.6 772.2 L963.7 774.8 L964.9 775.4 L966.2 774.5 L967.6 772.5 L969.0 770.2 L970.5 768.3 L972.0 767.3 L973.5 767.3 L975.1 768.0 L976.7 768.9 L978.3 769.9 L980.0 770.8 L981.6 771.4 L983.1 771.5 L984.4 771.5 L985.8 771.3 L987.3 771.0 L989.1 770.8 L991.2 770.7 L994.0 770.7 L997.5 770.7 L1001.2 770.8 L1004.8 770.9 L1007.8 770.9 L1010.0 771.0 L1059.4 772.3" stroke="#1d5f9c" stroke-width="1.85"/></g>
<path d="M904.7 664.8v2.6M904.7 879.6v-2.6M1007.6 664.8v2.6M1007.6 879.6v-2.6M801.9 694.1h2.6M1059.4 694.1h-2.6M801.9 772.4h2.6M1059.4 772.4h-2.6M801.9 850.5h2.6M1059.4 850.5h-2.6" stroke="#222" stroke-width="1.5" fill="none"/>
<rect x="801.9" y="664.8" width="257.5" height="214.8" fill="none" stroke="#1c1c1c" stroke-width="2.0" stroke-linejoin="round"/>
<text x="790.7" y="705.6" text-anchor="end" class="tk">50</text>
<text x="790.7" y="783.9" text-anchor="end" class="tk">0</text>
<text x="790.7" y="862.0" text-anchor="end" class="tk">-50</text>
<text x="801.9" y="915.5" text-anchor="middle" class="tk">14</text>
<text x="904.7" y="915.5" text-anchor="middle" class="tk">16</text>
<text x="1007.6" y="915.5" text-anchor="middle" class="tk">18</text>
<path d="M1247.0 664.8V879.6M1349.6 664.8V879.6M1143.9 694.1H1401.3M1143.9 772.4H1401.3M1143.9 850.5H1401.3" stroke="#cfcfcf" stroke-width="1.05" fill="none"/>
<g clip-path="url(#c23)" fill="none" stroke-linejoin="round" stroke-linecap="round"><path d="M1143.9 772.3 L1254.3 772.3 L1254.7 770.5 L1255.2 768.4 L1255.8 765.7 L1256.4 762.0 L1257.1 756.9 L1257.7 750.1 L1258.4 739.8 L1259.1 726.0 L1259.8 710.9 L1260.5 696.5 L1261.2 685.1 L1261.9 678.7 L1262.5 677.9 L1263.1 681.1 L1263.7 687.1 L1264.2 695.1 L1264.8 704.1 L1265.3 713.0 L1265.8 722.9 L1266.3 734.6 L1266.7 747.3 L1267.2 760.0 L1267.6 771.7 L1268.0 781.7 L1268.5 790.1 L1268.9 797.8 L1269.3 804.6 L1269.8 810.3 L1270.3 814.6 L1270.8 817.4 L1271.4 818.3 L1272.1 817.6 L1272.8 815.5 L1273.5 812.4 L1274.2 808.8 L1274.9 805.0 L1275.5 800.3 L1276.1 794.1 L1276.7 787.3 L1277.3 780.9 L1278.1 775.5 L1279.0 772.1 L1280.2 771.0 L1281.5 771.8 L1282.9 773.7 L1284.4 776.0 L1285.8 778.0 L1287.3 778.9 L1288.6 778.8 L1290.0 778.2 L1291.3 777.3 L1292.7 776.3 L1294.0 775.4 L1295.5 774.8 L1297.1 774.5 L1298.9 774.3 L1300.6 774.1 L1302.4 774.2 L1303.9 774.4 L1305.1 774.8 L1305.9 774.7 L1306.4 773.7 L1306.7 772.9 L1307.0 773.3 L1307.3 775.9 L1307.9 781.7 L1308.6 793.1 L1309.5 809.8 L1310.5 828.7 L1311.5 846.6 L1312.5 860.4 L1313.3 866.8 L1314.1 864.8 L1314.8 856.8 L1315.5 844.6 L1316.1 830.1 L1316.8 815.4 L1317.5 802.3 L1318.1 789.3 L1318.8 774.6 L1319.5 759.6 L1320.2 745.7 L1320.9 734.3 L1321.6 726.8 L1322.2 723.7 L1322.9 724.0 L1323.6 726.9 L1324.2 731.2 L1324.9 736.1 L1325.7 740.5 L1326.5 745.3 L1327.3 751.6 L1328.2 758.3 L1329.1 764.7 L1330.1 770.1 L1331.2 773.4 L1332.4 774.4 L1333.8 773.5 L1335.2 771.5 L1336.7 769.0 L1338.1 766.9 L1339.4 765.9 L1340.7 765.9 L1341.9 766.5 L1343.1 767.4 L1344.3 768.5 L1345.3 769.4 L1346.3 770.0 L1347.1 770.3 L1347.9 770.5 L1348.6 770.6 L1349.1 770.6 L1349.6 770.7 L1350.0 770.7 L1401.3 772.3" stroke="#5ab0e8" stroke-opacity="0.3" stroke-width="3.6"/><path d="M1143.9 772.3 L1254.3 772.3 L1254.7 770.5 L1255.2 768.4 L1255.8 765.7 L1256.4 762.0 L1257.1 756.9 L1257.7 750.1 L1258.4 739.8 L1259.1 726.0 L1259.8 710.9 L1260.5 696.5 L1261.2 685.1 L1261.9 678.7 L1262.5 677.9 L1263.1 681.1 L1263.7 687.1 L1264.2 695.1 L1264.8 704.1 L1265.3 713.0 L1265.8 722.9 L1266.3 734.6 L1266.7 747.3 L1267.2 760.0 L1267.6 771.7 L1268.0 781.7 L1268.5 790.1 L1268.9 797.8 L1269.3 804.6 L1269.8 810.3 L1270.3 814.6 L1270.8 817.4 L1271.4 818.3 L1272.1 817.6 L1272.8 815.5 L1273.5 812.4 L1274.2 808.8 L1274.9 805.0 L1275.5 800.3 L1276.1 794.1 L1276.7 787.3 L1277.3 780.9 L1278.1 775.5 L1279.0 772.1 L1280.2 771.0 L1281.5 771.8 L1282.9 773.7 L1284.4 776.0 L1285.8 778.0 L1287.3 778.9 L1288.6 778.8 L1290.0 778.2 L1291.3 777.3 L1292.7 776.3 L1294.0 775.4 L1295.5 774.8 L1297.1 774.5 L1298.9 774.3 L1300.6 774.1 L1302.4 774.2 L1303.9 774.4 L1305.1 774.8 L1305.9 774.7 L1306.4 773.7 L1306.7 772.9 L1307.0 773.3 L1307.3 775.9 L1307.9 781.7 L1308.6 793.1 L1309.5 809.8 L1310.5 828.7 L1311.5 846.6 L1312.5 860.4 L1313.3 866.8 L1314.1 864.8 L1314.8 856.8 L1315.5 844.6 L1316.1 830.1 L1316.8 815.4 L1317.5 802.3 L1318.1 789.3 L1318.8 774.6 L1319.5 759.6 L1320.2 745.7 L1320.9 734.3 L1321.6 726.8 L1322.2 723.7 L1322.9 724.0 L1323.6 726.9 L1324.2 731.2 L1324.9 736.1 L1325.7 740.5 L1326.5 745.3 L1327.3 751.6 L1328.2 758.3 L1329.1 764.7 L1330.1 770.1 L1331.2 773.4 L1332.4 774.4 L1333.8 773.5 L1335.2 771.5 L1336.7 769.0 L1338.1 766.9 L1339.4 765.9 L1340.7 765.9 L1341.9 766.5 L1343.1 767.4 L1344.3 768.5 L1345.3 769.4 L1346.3 770.0 L1347.1 770.3 L1347.9 770.5 L1348.6 770.6 L1349.1 770.6 L1349.6 770.7 L1350.0 770.7 L1401.3 772.3" stroke="#1d5f9c" stroke-width="1.85"/></g>
<path d="M1247.0 664.8v2.6M1247.0 879.6v-2.6M1349.6 664.8v2.6M1349.6 879.6v-2.6M1143.9 694.1h2.6M1401.3 694.1h-2.6M1143.9 772.4h2.6M1401.3 772.4h-2.6M1143.9 850.5h2.6M1401.3 850.5h-2.6" stroke="#222" stroke-width="1.5" fill="none"/>
<rect x="1143.9" y="664.8" width="257.4" height="214.8" fill="none" stroke="#1c1c1c" stroke-width="2.0" stroke-linejoin="round"/>
<text x="1132.7" y="705.6" text-anchor="end" class="tk">50</text>
<text x="1132.7" y="783.9" text-anchor="end" class="tk">0</text>
<text x="1132.7" y="862.0" text-anchor="end" class="tk">-50</text>
<text x="1143.9" y="915.5" text-anchor="middle" class="tk">14</text>
<text x="1247.0" y="915.5" text-anchor="middle" class="tk">16</text>
<text x="1349.6" y="915.5" text-anchor="middle" class="tk">18</text>
<text transform="translate(57.4 772.2) rotate(-90)" text-anchor="middle" class="lb">Amplitude [a.u.]</text>
<path d="M222.4 966.5V1181.1M325.7 966.5V1181.1M119.6 992.0H376.9M119.6 1047.1H376.9M119.6 1100.2H376.9M119.6 1155.7H376.9" stroke="#cfcfcf" stroke-width="1.05" fill="none"/>
<g clip-path="url(#c30)" fill="none" stroke-linejoin="round" stroke-linecap="round"><path d="M119.0 1099.0 L119.6 1100.0 L120.4 1101.5 L121.4 1103.1 L122.4 1104.3 L123.6 1104.6 L124.9 1103.5 L126.3 1101.2 L127.9 1098.7 L129.4 1096.7 L131.0 1096.3 L132.5 1098.1 L134.0 1101.5 L135.6 1105.5 L137.3 1108.8 L139.4 1110.1 L141.8 1108.7 L144.6 1105.4 L147.6 1101.3 L150.5 1097.9 L153.2 1096.3 L155.7 1097.2 L158.1 1099.8 L160.4 1103.1 L162.5 1105.9 L164.3 1107.4 L165.9 1107.0 L167.2 1105.5 L168.4 1103.5 L169.5 1101.4 L170.8 1100.0 L172.2 1099.0 L173.7 1098.1 L175.2 1097.4 L176.7 1097.1 L178.2 1097.2 L179.7 1098.1 L181.1 1099.7 L182.6 1101.5 L184.1 1103.0 L185.6 1103.7 L187.3 1103.1 L189.0 1101.7 L190.7 1100.0 L192.4 1098.6 L193.9 1098.1 L195.4 1099.0 L196.7 1100.8 L197.9 1102.9 L199.2 1104.7 L200.4 1105.5 L201.7 1104.9 L202.9 1103.4 L204.2 1101.6 L205.5 1099.9 L206.9 1099.0 L208.4 1099.3 L209.9 1100.3 L211.5 1101.5 L213.2 1102.5 L215.2 1102.7 L217.6 1101.9 L220.3 1100.4 L223.2 1098.6 L225.9 1097.1 L228.2 1096.3 L230.0 1096.3 L231.5 1096.8 L232.8 1097.7 L234.1 1098.8 L235.6 1100.0 L237.3 1101.7 L239.1 1104.1 L240.9 1106.5 L242.8 1108.1 L244.8 1108.3 L247.0 1106.2 L249.3 1102.2 L251.7 1097.7 L253.9 1094.0 L255.9 1092.6 L257.6 1094.3 L259.1 1098.4 L260.5 1103.2 L261.9 1107.3 L263.3 1109.2 L265.0 1108.1 L266.7 1104.9 L268.4 1101.0 L270.1 1097.4 L271.7 1095.3 L273.1 1095.3 L274.3 1096.4 L275.6 1098.1 L276.8 1099.8 L278.1 1100.9 L279.6 1101.2 L281.2 1101.1 L282.8 1100.9 L284.3 1100.7 L285.5 1100.9 L286.4 1102.0 L287.0 1103.9 L287.5 1105.6 L288.2 1106.2 L289.2 1104.6 L290.8 1099.6 L292.7 1091.8 L294.8 1083.1 L296.8 1075.6 L298.5 1071.3 L299.8 1070.4 L301.0 1071.7 L302.0 1074.6 L303.0 1078.6 L304.0 1083.3 L305.1 1089.8 L306.0 1098.5 L307.0 1107.5 L308.1 1115.0 L309.6 1119.4 L311.6 1119.4 L313.9 1116.4 L316.4 1111.8 L318.7 1107.4 L320.7 1104.6 L322.1 1103.9 L323.2 1104.4 L324.2 1105.2 L325.1 1105.8 L326.3 1105.5 L327.6 1103.9 L328.9 1101.3 L330.3 1098.5 L331.9 1096.2 L333.7 1095.3 L335.6 1096.4 L337.7 1099.0 L339.9 1102.1 L342.2 1104.6 L344.8 1105.5 L347.5 1104.1 L350.5 1101.1 L353.6 1097.6 L356.7 1094.7 L359.6 1093.5 L362.4 1094.6 L365.3 1097.3 L368.0 1100.7 L370.5 1103.7 L372.5 1105.5 L374.0 1105.7 L375.2 1105.0 L376.0 1103.8 L376.6 1102.6 L377.1 1101.8" stroke="#5ab0e8" stroke-opacity="0.3" stroke-width="3.6"/><path d="M119.0 1099.0 L119.6 1100.0 L120.4 1101.5 L121.4 1103.1 L122.4 1104.3 L123.6 1104.6 L124.9 1103.5 L126.3 1101.2 L127.9 1098.7 L129.4 1096.7 L131.0 1096.3 L132.5 1098.1 L134.0 1101.5 L135.6 1105.5 L137.3 1108.8 L139.4 1110.1 L141.8 1108.7 L144.6 1105.4 L147.6 1101.3 L150.5 1097.9 L153.2 1096.3 L155.7 1097.2 L158.1 1099.8 L160.4 1103.1 L162.5 1105.9 L164.3 1107.4 L165.9 1107.0 L167.2 1105.5 L168.4 1103.5 L169.5 1101.4 L170.8 1100.0 L172.2 1099.0 L173.7 1098.1 L175.2 1097.4 L176.7 1097.1 L178.2 1097.2 L179.7 1098.1 L181.1 1099.7 L182.6 1101.5 L184.1 1103.0 L185.6 1103.7 L187.3 1103.1 L189.0 1101.7 L190.7 1100.0 L192.4 1098.6 L193.9 1098.1 L195.4 1099.0 L196.7 1100.8 L197.9 1102.9 L199.2 1104.7 L200.4 1105.5 L201.7 1104.9 L202.9 1103.4 L204.2 1101.6 L205.5 1099.9 L206.9 1099.0 L208.4 1099.3 L209.9 1100.3 L211.5 1101.5 L213.2 1102.5 L215.2 1102.7 L217.6 1101.9 L220.3 1100.4 L223.2 1098.6 L225.9 1097.1 L228.2 1096.3 L230.0 1096.3 L231.5 1096.8 L232.8 1097.7 L234.1 1098.8 L235.6 1100.0 L237.3 1101.7 L239.1 1104.1 L240.9 1106.5 L242.8 1108.1 L244.8 1108.3 L247.0 1106.2 L249.3 1102.2 L251.7 1097.7 L253.9 1094.0 L255.9 1092.6 L257.6 1094.3 L259.1 1098.4 L260.5 1103.2 L261.9 1107.3 L263.3 1109.2 L265.0 1108.1 L266.7 1104.9 L268.4 1101.0 L270.1 1097.4 L271.7 1095.3 L273.1 1095.3 L274.3 1096.4 L275.6 1098.1 L276.8 1099.8 L278.1 1100.9 L279.6 1101.2 L281.2 1101.1 L282.8 1100.9 L284.3 1100.7 L285.5 1100.9 L286.4 1102.0 L287.0 1103.9 L287.5 1105.6 L288.2 1106.2 L289.2 1104.6 L290.8 1099.6 L292.7 1091.8 L294.8 1083.1 L296.8 1075.6 L298.5 1071.3 L299.8 1070.4 L301.0 1071.7 L302.0 1074.6 L303.0 1078.6 L304.0 1083.3 L305.1 1089.8 L306.0 1098.5 L307.0 1107.5 L308.1 1115.0 L309.6 1119.4 L311.6 1119.4 L313.9 1116.4 L316.4 1111.8 L318.7 1107.4 L320.7 1104.6 L322.1 1103.9 L323.2 1104.4 L324.2 1105.2 L325.1 1105.8 L326.3 1105.5 L327.6 1103.9 L328.9 1101.3 L330.3 1098.5 L331.9 1096.2 L333.7 1095.3 L335.6 1096.4 L337.7 1099.0 L339.9 1102.1 L342.2 1104.6 L344.8 1105.5 L347.5 1104.1 L350.5 1101.1 L353.6 1097.6 L356.7 1094.7 L359.6 1093.5 L362.4 1094.6 L365.3 1097.3 L368.0 1100.7 L370.5 1103.7 L372.5 1105.5 L374.0 1105.7 L375.2 1105.0 L376.0 1103.8 L376.6 1102.6 L377.1 1101.8" stroke="#1d5f9c" stroke-width="1.85"/></g>
<path d="M222.4 966.5v2.6M222.4 1181.1v-2.6M325.7 966.5v2.6M325.7 1181.1v-2.6M119.6 992.0h2.6M376.9 992.0h-2.6M119.6 1047.1h2.6M376.9 1047.1h-2.6M119.6 1100.2h2.6M376.9 1100.2h-2.6M119.6 1155.7h2.6M376.9 1155.7h-2.6" stroke="#222" stroke-width="1.5" fill="none"/>
<rect x="119.6" y="966.5" width="257.3" height="214.6" fill="none" stroke="#1c1c1c" stroke-width="2.0" stroke-linejoin="round"/>
<text x="108.6" y="1003.5" text-anchor="end" class="tk" style="letter-spacing:0.65px">0.4</text>
<text x="108.6" y="1058.6" text-anchor="end" class="tk" style="letter-spacing:0.65px">0.2</text>
<text x="108.4" y="1111.7" text-anchor="end" class="tk">0</text>
<text x="108.6" y="1167.2" text-anchor="end" class="tk" style="letter-spacing:0.65px">-0.2</text>
<text x="119.6" y="1217.0" text-anchor="middle" class="tk">32</text>
<text x="222.4" y="1217.0" text-anchor="middle" class="tk">34</text>
<text x="325.7" y="1217.0" text-anchor="middle" class="tk">36</text>
<path d="M564.6 966.5V1181.1M667.5 966.5V1181.1M461.6 992.0H716.9M461.6 1047.1H716.9M461.6 1100.2H716.9M461.6 1155.7H716.9" stroke="#cfcfcf" stroke-width="1.05" fill="none"/>
<g clip-path="url(#c31)" fill="none" stroke-linejoin="round" stroke-linecap="round"><path d="M461.0 1103.1 L461.7 1103.3 L462.5 1103.7 L463.6 1104.0 L464.9 1104.2 L466.6 1104.0 L468.6 1103.2 L471.1 1101.9 L473.7 1100.6 L476.3 1099.6 L478.6 1099.4 L480.4 1100.6 L481.9 1102.9 L483.3 1105.4 L484.9 1107.3 L486.9 1107.7 L489.5 1105.9 L492.5 1102.3 L495.6 1098.3 L498.8 1095.0 L501.7 1093.8 L504.4 1095.8 L507.1 1099.9 L509.7 1104.8 L512.2 1108.8 L514.7 1110.5 L517.0 1108.8 L519.3 1104.9 L521.5 1100.0 L523.6 1095.9 L525.8 1093.8 L527.9 1094.8 L529.9 1097.9 L531.9 1101.6 L533.9 1104.7 L535.9 1105.9 L538.0 1104.2 L540.1 1100.6 L542.1 1096.3 L544.1 1092.7 L546.1 1091.1 L548.0 1091.8 L549.8 1094.2 L551.6 1097.3 L553.4 1100.6 L555.4 1103.1 L557.5 1105.3 L559.6 1107.7 L561.9 1109.7 L564.2 1110.8 L566.5 1110.5 L568.9 1107.7 L571.3 1102.9 L573.8 1097.5 L576.2 1093.0 L578.5 1091.1 L580.7 1092.7 L582.7 1096.8 L584.7 1101.8 L586.7 1106.3 L588.7 1108.6 L590.8 1108.1 L592.9 1105.8 L595.0 1102.7 L597.0 1099.9 L598.9 1098.5 L600.5 1098.8 L602.1 1100.3 L603.5 1102.2 L604.9 1104.0 L606.3 1104.9 L607.6 1104.6 L608.8 1103.3 L610.1 1101.9 L611.3 1101.2 L612.7 1102.2 L614.3 1106.4 L616.0 1113.2 L617.8 1120.3 L619.5 1125.1 L621.1 1125.3 L622.5 1119.6 L623.8 1109.6 L625.0 1097.2 L626.3 1084.3 L627.5 1072.6 L628.9 1060.6 L630.2 1047.1 L631.6 1034.4 L632.8 1024.8 L634.0 1020.7 L635.0 1023.2 L635.9 1030.6 L636.8 1041.4 L637.6 1054.1 L638.6 1067.0 L639.8 1082.7 L640.9 1102.2 L642.2 1121.8 L643.6 1137.8 L645.1 1146.6 L646.9 1145.6 L648.9 1137.3 L651.0 1125.5 L653.1 1113.7 L655.3 1105.9 L657.4 1102.1 L659.6 1100.1 L661.8 1099.3 L664.0 1099.2 L666.4 1099.4 L668.9 1100.5 L671.6 1102.9 L674.4 1105.6 L677.0 1107.5 L679.4 1107.7 L681.5 1105.2 L683.4 1100.6 L685.2 1095.4 L686.9 1091.1 L688.6 1089.2 L690.3 1090.6 L691.9 1094.3 L693.5 1099.0 L695.2 1103.3 L696.9 1105.9 L698.9 1106.3 L701.0 1105.6 L703.2 1104.2 L705.2 1102.9 L707.1 1102.2 L708.8 1102.3 L710.5 1102.8 L712.0 1103.5 L713.3 1104.0 L714.5 1104.0 L715.6 1103.4 L716.4 1102.4 L717.2 1101.2 L717.8 1100.1 L718.2 1099.4" stroke="#5ab0e8" stroke-opacity="0.3" stroke-width="3.6"/><path d="M461.0 1103.1 L461.7 1103.3 L462.5 1103.7 L463.6 1104.0 L464.9 1104.2 L466.6 1104.0 L468.6 1103.2 L471.1 1101.9 L473.7 1100.6 L476.3 1099.6 L478.6 1099.4 L480.4 1100.6 L481.9 1102.9 L483.3 1105.4 L484.9 1107.3 L486.9 1107.7 L489.5 1105.9 L492.5 1102.3 L495.6 1098.3 L498.8 1095.0 L501.7 1093.8 L504.4 1095.8 L507.1 1099.9 L509.7 1104.8 L512.2 1108.8 L514.7 1110.5 L517.0 1108.8 L519.3 1104.9 L521.5 1100.0 L523.6 1095.9 L525.8 1093.8 L527.9 1094.8 L529.9 1097.9 L531.9 1101.6 L533.9 1104.7 L535.9 1105.9 L538.0 1104.2 L540.1 1100.6 L542.1 1096.3 L544.1 1092.7 L546.1 1091.1 L548.0 1091.8 L549.8 1094.2 L551.6 1097.3 L553.4 1100.6 L555.4 1103.1 L557.5 1105.3 L559.6 1107.7 L561.9 1109.7 L564.2 1110.8 L566.5 1110.5 L568.9 1107.7 L571.3 1102.9 L573.8 1097.5 L576.2 1093.0 L578.5 1091.1 L580.7 1092.7 L582.7 1096.8 L584.7 1101.8 L586.7 1106.3 L588.7 1108.6 L590.8 1108.1 L592.9 1105.8 L595.0 1102.7 L597.0 1099.9 L598.9 1098.5 L600.5 1098.8 L602.1 1100.3 L603.5 1102.2 L604.9 1104.0 L606.3 1104.9 L607.6 1104.6 L608.8 1103.3 L610.1 1101.9 L611.3 1101.2 L612.7 1102.2 L614.3 1106.4 L616.0 1113.2 L617.8 1120.3 L619.5 1125.1 L621.1 1125.3 L622.5 1119.6 L623.8 1109.6 L625.0 1097.2 L626.3 1084.3 L627.5 1072.6 L628.9 1060.6 L630.2 1047.1 L631.6 1034.4 L632.8 1024.8 L634.0 1020.7 L635.0 1023.2 L635.9 1030.6 L636.8 1041.4 L637.6 1054.1 L638.6 1067.0 L639.8 1082.7 L640.9 1102.2 L642.2 1121.8 L643.6 1137.8 L645.1 1146.6 L646.9 1145.6 L648.9 1137.3 L651.0 1125.5 L653.1 1113.7 L655.3 1105.9 L657.4 1102.1 L659.6 1100.1 L661.8 1099.3 L664.0 1099.2 L666.4 1099.4 L668.9 1100.5 L671.6 1102.9 L674.4 1105.6 L677.0 1107.5 L679.4 1107.7 L681.5 1105.2 L683.4 1100.6 L685.2 1095.4 L686.9 1091.1 L688.6 1089.2 L690.3 1090.6 L691.9 1094.3 L693.5 1099.0 L695.2 1103.3 L696.9 1105.9 L698.9 1106.3 L701.0 1105.6 L703.2 1104.2 L705.2 1102.9 L707.1 1102.2 L708.8 1102.3 L710.5 1102.8 L712.0 1103.5 L713.3 1104.0 L714.5 1104.0 L715.6 1103.4 L716.4 1102.4 L717.2 1101.2 L717.8 1100.1 L718.2 1099.4" stroke="#1d5f9c" stroke-width="1.85"/></g>
<path d="M564.6 966.5v2.6M564.6 1181.1v-2.6M667.5 966.5v2.6M667.5 1181.1v-2.6M461.6 992.0h2.6M716.9 992.0h-2.6M461.6 1047.1h2.6M716.9 1047.1h-2.6M461.6 1100.2h2.6M716.9 1100.2h-2.6M461.6 1155.7h2.6M716.9 1155.7h-2.6" stroke="#222" stroke-width="1.5" fill="none"/>
<rect x="461.6" y="966.5" width="255.3" height="214.6" fill="none" stroke="#1c1c1c" stroke-width="2.0" stroke-linejoin="round"/>
<text x="450.6" y="1003.5" text-anchor="end" class="tk" style="letter-spacing:0.65px">0.4</text>
<text x="450.6" y="1058.6" text-anchor="end" class="tk" style="letter-spacing:0.65px">0.2</text>
<text x="450.4" y="1111.7" text-anchor="end" class="tk">0</text>
<text x="450.6" y="1167.2" text-anchor="end" class="tk" style="letter-spacing:0.65px">-0.2</text>
<text x="461.6" y="1217.0" text-anchor="middle" class="tk">32</text>
<text x="564.6" y="1217.0" text-anchor="middle" class="tk">34</text>
<text x="667.5" y="1217.0" text-anchor="middle" class="tk">36</text>
<path d="M904.7 966.5V1181.1M1007.6 966.5V1181.1M801.9 992.0H1059.4M801.9 1047.1H1059.4M801.9 1100.2H1059.4M801.9 1155.7H1059.4" stroke="#cfcfcf" stroke-width="1.05" fill="none"/>
<g clip-path="url(#c32)" fill="none" stroke-linejoin="round" stroke-linecap="round"><path d="M801.0 1103.8 L801.7 1104.0 L802.6 1104.4 L803.8 1104.7 L805.1 1104.9 L806.6 1104.7 L808.0 1104.1 L809.5 1103.1 L811.3 1101.9 L813.3 1100.8 L815.8 1100.1 L819.1 1099.7 L823.0 1099.4 L827.2 1099.3 L831.1 1099.6 L834.3 1100.1 L836.6 1101.4 L838.2 1103.4 L839.5 1105.5 L840.9 1107.1 L842.6 1107.5 L844.8 1106.3 L847.2 1104.0 L849.7 1101.1 L852.3 1098.5 L854.7 1097.0 L856.9 1096.5 L859.1 1096.6 L861.2 1097.2 L863.4 1098.1 L865.8 1099.2 L868.2 1100.8 L870.8 1103.0 L873.5 1105.3 L876.1 1107.2 L878.7 1108.4 L881.4 1108.7 L884.1 1108.3 L886.8 1107.5 L889.4 1106.5 L891.7 1105.7 L893.6 1104.6 L895.3 1103.2 L896.9 1101.8 L898.4 1100.8 L900.0 1100.7 L901.7 1101.5 L903.3 1103.1 L904.9 1105.1 L906.6 1107.3 L908.3 1109.4 L910.1 1111.2 L911.9 1113.1 L913.7 1115.0 L915.6 1117.1 L917.6 1119.5 L919.7 1123.1 L922.1 1127.8 L924.4 1132.3 L926.7 1135.2 L928.7 1135.3 L930.4 1132.0 L931.8 1126.2 L933.2 1118.7 L934.5 1110.0 L936.1 1101.0 L937.8 1091.1 L939.6 1079.7 L941.5 1067.8 L943.4 1056.1 L945.3 1045.5 L947.4 1035.1 L949.5 1024.4 L951.7 1014.6 L953.7 1007.0 L955.5 1003.0 L957.1 1002.7 L958.4 1005.4 L959.6 1010.6 L960.8 1017.9 L962.0 1027.0 L963.1 1039.1 L964.2 1054.5 L965.2 1071.3 L966.3 1087.4 L967.5 1101.0 L968.9 1111.9 L970.4 1121.5 L971.9 1129.8 L973.4 1137.1 L974.9 1143.6 L976.4 1149.5 L977.9 1154.8 L979.4 1158.9 L980.9 1161.5 L982.3 1162.1 L983.8 1160.2 L985.3 1156.2 L986.8 1150.8 L988.3 1144.5 L989.7 1138.0 L991.2 1130.7 L992.7 1121.9 L994.2 1113.0 L995.7 1105.0 L997.2 1099.2 L998.6 1096.0 L1000.1 1094.6 L1001.6 1094.4 L1003.1 1094.6 L1004.6 1094.6 L1006.0 1094.3 L1007.5 1094.3 L1009.0 1094.4 L1010.5 1094.8 L1012.0 1095.5 L1013.4 1096.6 L1014.8 1098.3 L1016.3 1100.1 L1017.8 1101.5 L1019.4 1102.0 L1021.1 1101.2 L1023.0 1099.6 L1025.0 1097.6 L1026.8 1095.8 L1028.6 1094.6 L1030.1 1094.2 L1031.5 1094.5 L1032.9 1094.9 L1034.3 1095.0 L1036.0 1094.6 L1038.0 1093.0 L1040.1 1090.6 L1042.4 1088.0 L1044.7 1086.1 L1047.1 1085.3 L1049.8 1086.3 L1052.8 1088.5 L1055.7 1091.2 L1058.3 1093.8 L1060.1 1095.5" stroke="#5ab0e8" stroke-opacity="0.3" stroke-width="3.6"/><path d="M801.0 1103.8 L801.7 1104.0 L802.6 1104.4 L803.8 1104.7 L805.1 1104.9 L806.6 1104.7 L808.0 1104.1 L809.5 1103.1 L811.3 1101.9 L813.3 1100.8 L815.8 1100.1 L819.1 1099.7 L823.0 1099.4 L827.2 1099.3 L831.1 1099.6 L834.3 1100.1 L836.6 1101.4 L838.2 1103.4 L839.5 1105.5 L840.9 1107.1 L842.6 1107.5 L844.8 1106.3 L847.2 1104.0 L849.7 1101.1 L852.3 1098.5 L854.7 1097.0 L856.9 1096.5 L859.1 1096.6 L861.2 1097.2 L863.4 1098.1 L865.8 1099.2 L868.2 1100.8 L870.8 1103.0 L873.5 1105.3 L876.1 1107.2 L878.7 1108.4 L881.4 1108.7 L884.1 1108.3 L886.8 1107.5 L889.4 1106.5 L891.7 1105.7 L893.6 1104.6 L895.3 1103.2 L896.9 1101.8 L898.4 1100.8 L900.0 1100.7 L901.7 1101.5 L903.3 1103.1 L904.9 1105.1 L906.6 1107.3 L908.3 1109.4 L910.1 1111.2 L911.9 1113.1 L913.7 1115.0 L915.6 1117.1 L917.6 1119.5 L919.7 1123.1 L922.1 1127.8 L924.4 1132.3 L926.7 1135.2 L928.7 1135.3 L930.4 1132.0 L931.8 1126.2 L933.2 1118.7 L934.5 1110.0 L936.1 1101.0 L937.8 1091.1 L939.6 1079.7 L941.5 1067.8 L943.4 1056.1 L945.3 1045.5 L947.4 1035.1 L949.5 1024.4 L951.7 1014.6 L953.7 1007.0 L955.5 1003.0 L957.1 1002.7 L958.4 1005.4 L959.6 1010.6 L960.8 1017.9 L962.0 1027.0 L963.1 1039.1 L964.2 1054.5 L965.2 1071.3 L966.3 1087.4 L967.5 1101.0 L968.9 1111.9 L970.4 1121.5 L971.9 1129.8 L973.4 1137.1 L974.9 1143.6 L976.4 1149.5 L977.9 1154.8 L979.4 1158.9 L980.9 1161.5 L982.3 1162.1 L983.8 1160.2 L985.3 1156.2 L986.8 1150.8 L988.3 1144.5 L989.7 1138.0 L991.2 1130.7 L992.7 1121.9 L994.2 1113.0 L995.7 1105.0 L997.2 1099.2 L998.6 1096.0 L1000.1 1094.6 L1001.6 1094.4 L1003.1 1094.6 L1004.6 1094.6 L1006.0 1094.3 L1007.5 1094.3 L1009.0 1094.4 L1010.5 1094.8 L1012.0 1095.5 L1013.4 1096.6 L1014.8 1098.3 L1016.3 1100.1 L1017.8 1101.5 L1019.4 1102.0 L1021.1 1101.2 L1023.0 1099.6 L1025.0 1097.6 L1026.8 1095.8 L1028.6 1094.6 L1030.1 1094.2 L1031.5 1094.5 L1032.9 1094.9 L1034.3 1095.0 L1036.0 1094.6 L1038.0 1093.0 L1040.1 1090.6 L1042.4 1088.0 L1044.7 1086.1 L1047.1 1085.3 L1049.8 1086.3 L1052.8 1088.5 L1055.7 1091.2 L1058.3 1093.8 L1060.1 1095.5" stroke="#1d5f9c" stroke-width="1.85"/></g>
<path d="M904.7 966.5v2.6M904.7 1181.1v-2.6M1007.6 966.5v2.6M1007.6 1181.1v-2.6M801.9 992.0h2.6M1059.4 992.0h-2.6M801.9 1047.1h2.6M1059.4 1047.1h-2.6M801.9 1100.2h2.6M1059.4 1100.2h-2.6M801.9 1155.7h2.6M1059.4 1155.7h-2.6" stroke="#222" stroke-width="1.5" fill="none"/>
<rect x="801.9" y="966.5" width="257.5" height="214.6" fill="none" stroke="#1c1c1c" stroke-width="2.0" stroke-linejoin="round"/>
<text x="790.9" y="1003.5" text-anchor="end" class="tk" style="letter-spacing:0.65px">0.4</text>
<text x="790.9" y="1058.6" text-anchor="end" class="tk" style="letter-spacing:0.65px">0.2</text>
<text x="790.7" y="1111.7" text-anchor="end" class="tk">0</text>
<text x="790.9" y="1167.2" text-anchor="end" class="tk" style="letter-spacing:0.65px">-0.2</text>
<text x="801.9" y="1217.0" text-anchor="middle" class="tk">32</text>
<text x="904.7" y="1217.0" text-anchor="middle" class="tk">34</text>
<text x="1007.6" y="1217.0" text-anchor="middle" class="tk">36</text>
<path d="M1247.0 966.5V1181.1M1349.6 966.5V1181.1M1143.9 992.0H1401.3M1143.9 1047.1H1401.3M1143.9 1100.2H1401.3M1143.9 1155.7H1401.3" stroke="#cfcfcf" stroke-width="1.05" fill="none"/>
<g clip-path="url(#c33)" fill="none" stroke-linejoin="round" stroke-linecap="round"><path d="M1143.0 1099.2 L1144.0 1099.4 L1145.3 1099.7 L1147.0 1100.0 L1148.7 1100.5 L1150.4 1101.0 L1152.1 1101.9 L1153.9 1102.9 L1155.7 1104.0 L1157.7 1105.0 L1159.7 1105.7 L1161.8 1106.0 L1164.1 1106.1 L1166.5 1106.1 L1168.7 1105.9 L1170.8 1105.7 L1172.4 1105.2 L1173.9 1104.4 L1175.2 1103.7 L1176.6 1103.1 L1178.2 1102.9 L1179.9 1103.1 L1181.7 1103.6 L1183.6 1104.4 L1185.5 1105.4 L1187.4 1106.6 L1189.2 1108.0 L1191.0 1109.8 L1192.8 1111.7 L1194.7 1113.8 L1196.7 1115.8 L1198.8 1117.9 L1201.0 1119.9 L1203.2 1122.1 L1205.5 1124.4 L1207.8 1126.9 L1210.1 1130.2 L1212.5 1134.2 L1214.8 1138.1 L1217.0 1141.2 L1218.9 1142.7 L1220.3 1142.3 L1221.4 1140.7 L1222.3 1138.0 L1223.3 1134.6 L1224.4 1130.6 L1225.8 1125.6 L1227.2 1119.3 L1228.6 1112.5 L1230.2 1106.2 L1231.8 1101.0 L1233.6 1097.2 L1235.6 1094.2 L1237.6 1091.8 L1239.4 1089.8 L1241.1 1088.1 L1242.3 1087.0 L1243.3 1086.6 L1244.2 1086.5 L1245.2 1085.9 L1246.6 1084.4 L1248.6 1081.7 L1250.8 1078.1 L1253.3 1074.1 L1255.7 1069.9 L1257.7 1065.9 L1259.5 1062.1 L1261.0 1058.3 L1262.4 1054.5 L1263.8 1050.3 L1265.1 1045.5 L1266.5 1039.4 L1267.9 1032.0 L1269.2 1024.6 L1270.4 1018.5 L1271.6 1015.0 L1272.6 1014.1 L1273.5 1015.1 L1274.4 1017.7 L1275.3 1021.7 L1276.2 1027.0 L1277.3 1034.2 L1278.4 1043.5 L1279.5 1053.8 L1280.7 1064.1 L1281.8 1073.3 L1282.9 1081.8 L1283.9 1090.3 L1285.0 1098.2 L1286.1 1105.0 L1287.3 1110.3 L1288.7 1113.5 L1290.2 1114.9 L1291.7 1115.4 L1293.2 1115.5 L1294.7 1115.8 L1296.2 1116.4 L1297.5 1116.8 L1298.9 1117.0 L1300.4 1117.3 L1302.1 1117.7 L1304.2 1118.2 L1306.6 1118.6 L1309.0 1119.1 L1311.3 1120.0 L1313.2 1121.4 L1314.7 1123.4 L1315.9 1125.9 L1316.8 1128.7 L1317.8 1131.6 L1318.8 1134.3 L1319.9 1137.4 L1321.0 1140.9 L1322.1 1144.2 L1323.2 1146.6 L1324.3 1147.3 L1325.4 1146.1 L1326.4 1143.6 L1327.4 1139.9 L1328.6 1135.5 L1329.9 1130.6 L1331.5 1124.7 L1333.3 1117.5 L1335.3 1109.9 L1337.2 1102.9 L1339.2 1097.3 L1341.0 1093.4 L1342.9 1090.5 L1344.8 1088.4 L1346.7 1086.8 L1348.4 1085.3 L1349.9 1084.3 L1351.3 1083.8 L1352.6 1083.7 L1354.1 1083.3 L1355.8 1082.5 L1358.0 1080.9 L1360.5 1078.6 L1363.2 1076.2 L1365.7 1074.3 L1367.8 1073.3 L1369.5 1073.3 L1370.8 1074.1 L1371.9 1075.4 L1373.0 1077.0 L1374.3 1078.8 L1375.7 1081.0 L1377.1 1083.7 L1378.6 1086.6 L1380.1 1089.4 L1381.7 1091.8 L1383.4 1093.6 L1385.2 1095.0 L1387.0 1096.2 L1389.0 1097.5 L1391.0 1099.2 L1393.2 1101.3 L1395.8 1103.9 L1398.3 1106.5 L1400.5 1108.7 L1402.1 1110.3" stroke="#5ab0e8" stroke-opacity="0.3" stroke-width="3.6"/><path d="M1143.0 1099.2 L1144.0 1099.4 L1145.3 1099.7 L1147.0 1100.0 L1148.7 1100.5 L1150.4 1101.0 L1152.1 1101.9 L1153.9 1102.9 L1155.7 1104.0 L1157.7 1105.0 L1159.7 1105.7 L1161.8 1106.0 L1164.1 1106.1 L1166.5 1106.1 L1168.7 1105.9 L1170.8 1105.7 L1172.4 1105.2 L1173.9 1104.4 L1175.2 1103.7 L1176.6 1103.1 L1178.2 1102.9 L1179.9 1103.1 L1181.7 1103.6 L1183.6 1104.4 L1185.5 1105.4 L1187.4 1106.6 L1189.2 1108.0 L1191.0 1109.8 L1192.8 1111.7 L1194.7 1113.8 L1196.7 1115.8 L1198.8 1117.9 L1201.0 1119.9 L1203.2 1122.1 L1205.5 1124.4 L1207.8 1126.9 L1210.1 1130.2 L1212.5 1134.2 L1214.8 1138.1 L1217.0 1141.2 L1218.9 1142.7 L1220.3 1142.3 L1221.4 1140.7 L1222.3 1138.0 L1223.3 1134.6 L1224.4 1130.6 L1225.8 1125.6 L1227.2 1119.3 L1228.6 1112.5 L1230.2 1106.2 L1231.8 1101.0 L1233.6 1097.2 L1235.6 1094.2 L1237.6 1091.8 L1239.4 1089.8 L1241.1 1088.1 L1242.3 1087.0 L1243.3 1086.6 L1244.2 1086.5 L1245.2 1085.9 L1246.6 1084.4 L1248.6 1081.7 L1250.8 1078.1 L1253.3 1074.1 L1255.7 1069.9 L1257.7 1065.9 L1259.5 1062.1 L1261.0 1058.3 L1262.4 1054.5 L1263.8 1050.3 L1265.1 1045.5 L1266.5 1039.4 L1267.9 1032.0 L1269.2 1024.6 L1270.4 1018.5 L1271.6 1015.0 L1272.6 1014.1 L1273.5 1015.1 L1274.4 1017.7 L1275.3 1021.7 L1276.2 1027.0 L1277.3 1034.2 L1278.4 1043.5 L1279.5 1053.8 L1280.7 1064.1 L1281.8 1073.3 L1282.9 1081.8 L1283.9 1090.3 L1285.0 1098.2 L1286.1 1105.0 L1287.3 1110.3 L1288.7 1113.5 L1290.2 1114.9 L1291.7 1115.4 L1293.2 1115.5 L1294.7 1115.8 L1296.2 1116.4 L1297.5 1116.8 L1298.9 1117.0 L1300.4 1117.3 L1302.1 1117.7 L1304.2 1118.2 L1306.6 1118.6 L1309.0 1119.1 L1311.3 1120.0 L1313.2 1121.4 L1314.7 1123.4 L1315.9 1125.9 L1316.8 1128.7 L1317.8 1131.6 L1318.8 1134.3 L1319.9 1137.4 L1321.0 1140.9 L1322.1 1144.2 L1323.2 1146.6 L1324.3 1147.3 L1325.4 1146.1 L1326.4 1143.6 L1327.4 1139.9 L1328.6 1135.5 L1329.9 1130.6 L1331.5 1124.7 L1333.3 1117.5 L1335.3 1109.9 L1337.2 1102.9 L1339.2 1097.3 L1341.0 1093.4 L1342.9 1090.5 L1344.8 1088.4 L1346.7 1086.8 L1348.4 1085.3 L1349.9 1084.3 L1351.3 1083.8 L1352.6 1083.7 L1354.1 1083.3 L1355.8 1082.5 L1358.0 1080.9 L1360.5 1078.6 L1363.2 1076.2 L1365.7 1074.3 L1367.8 1073.3 L1369.5 1073.3 L1370.8 1074.1 L1371.9 1075.4 L1373.0 1077.0 L1374.3 1078.8 L1375.7 1081.0 L1377.1 1083.7 L1378.6 1086.6 L1380.1 1089.4 L1381.7 1091.8 L1383.4 1093.6 L1385.2 1095.0 L1387.0 1096.2 L1389.0 1097.5 L1391.0 1099.2 L1393.2 1101.3 L1395.8 1103.9 L1398.3 1106.5 L1400.5 1108.7 L1402.1 1110.3" stroke="#1d5f9c" stroke-width="1.85"/></g>
<path d="M1247.0 966.5v2.6M1247.0 1181.1v-2.6M1349.6 966.5v2.6M1349.6 1181.1v-2.6M1143.9 992.0h2.6M1401.3 992.0h-2.6M1143.9 1047.1h2.6M1401.3 1047.1h-2.6M1143.9 1100.2h2.6M1401.3 1100.2h-2.6M1143.9 1155.7h2.6M1401.3 1155.7h-2.6" stroke="#222" stroke-width="1.5" fill="none"/>
<rect x="1143.9" y="966.5" width="257.4" height="214.6" fill="none" stroke="#1c1c1c" stroke-width="2.0" stroke-linejoin="round"/>
<text x="1132.9" y="1003.5" text-anchor="end" class="tk" style="letter-spacing:0.65px">0.4</text>
<text x="1132.9" y="1058.6" text-anchor="end" class="tk" style="letter-spacing:0.65px">0.2</text>
<text x="1132.7" y="1111.7" text-anchor="end" class="tk">0</text>
<text x="1132.9" y="1167.2" text-anchor="end" class="tk" style="letter-spacing:0.65px">-0.2</text>
<text x="1143.9" y="1217.0" text-anchor="middle" class="tk">32</text>
<text x="1247.0" y="1217.0" text-anchor="middle" class="tk">34</text>
<text x="1349.6" y="1217.0" text-anchor="middle" class="tk">36</text>
<text transform="translate(52.0 1073.8) rotate(-90)" text-anchor="middle" class="lb">Correlation [a.u.]</text>
<path d="M222.4 1267.9V1482.5M325.7 1267.9V1482.5M119.6 1339.5H376.9M119.6 1411.5H376.9" stroke="#cfcfcf" stroke-width="1.05" fill="none"/>
<g clip-path="url(#c40)" fill="none" stroke-linejoin="round" stroke-linecap="round"><path d="M119.0 1482.9 L120.5 1482.7 L122.7 1482.4 L125.3 1482.0 L127.8 1481.7 L130.1 1481.6 L131.7 1481.7 L132.7 1482.0 L133.9 1482.3 L135.9 1482.7 L139.4 1482.9 L144.7 1483.1 L151.5 1483.2 L159.1 1483.3 L166.9 1483.4 L174.5 1483.5 L181.7 1483.5 L189.0 1483.6 L196.4 1483.6 L203.9 1483.6 L211.5 1483.5 L219.6 1483.2 L228.2 1482.7 L236.7 1482.2 L244.9 1481.8 L252.2 1481.6 L259.0 1481.8 L265.4 1482.2 L271.2 1482.6 L276.2 1482.9 L280.0 1482.9 L282.3 1482.7 L283.2 1482.3 L283.4 1481.7 L283.3 1480.7 L283.7 1479.2 L284.4 1476.8 L285.1 1473.6 L285.8 1470.1 L286.6 1466.9 L287.4 1464.4 L288.3 1462.8 L289.2 1461.7 L290.1 1461.0 L291.1 1460.6 L292.0 1460.3 L292.9 1460.3 L293.9 1460.4 L294.8 1460.8 L295.7 1461.5 L296.6 1462.6 L297.6 1464.2 L298.5 1466.5 L299.4 1469.0 L300.3 1471.2 L301.3 1472.7 L302.2 1473.4 L303.1 1473.5 L304.0 1473.3 L304.9 1473.3 L305.9 1473.7 L307.0 1474.7 L308.1 1476.0 L309.3 1477.5 L310.4 1479.0 L311.5 1480.1 L311.4 1481.0 L310.2 1481.7 L309.5 1482.2 L310.7 1482.6 L315.2 1482.9 L325.0 1483.1 L339.1 1483.1 L354.6 1483.0 L368.6 1483.0 L378.1 1482.9" stroke="#5ab0e8" stroke-opacity="0.3" stroke-width="3.6"/><path d="M119.0 1482.9 L120.5 1482.7 L122.7 1482.4 L125.3 1482.0 L127.8 1481.7 L130.1 1481.6 L131.7 1481.7 L132.7 1482.0 L133.9 1482.3 L135.9 1482.7 L139.4 1482.9 L144.7 1483.1 L151.5 1483.2 L159.1 1483.3 L166.9 1483.4 L174.5 1483.5 L181.7 1483.5 L189.0 1483.6 L196.4 1483.6 L203.9 1483.6 L211.5 1483.5 L219.6 1483.2 L228.2 1482.7 L236.7 1482.2 L244.9 1481.8 L252.2 1481.6 L259.0 1481.8 L265.4 1482.2 L271.2 1482.6 L276.2 1482.9 L280.0 1482.9 L282.3 1482.7 L283.2 1482.3 L283.4 1481.7 L283.3 1480.7 L283.7 1479.2 L284.4 1476.8 L285.1 1473.6 L285.8 1470.1 L286.6 1466.9 L287.4 1464.4 L288.3 1462.8 L289.2 1461.7 L290.1 1461.0 L291.1 1460.6 L292.0 1460.3 L292.9 1460.3 L293.9 1460.4 L294.8 1460.8 L295.7 1461.5 L296.6 1462.6 L297.6 1464.2 L298.5 1466.5 L299.4 1469.0 L300.3 1471.2 L301.3 1472.7 L302.2 1473.4 L303.1 1473.5 L304.0 1473.3 L304.9 1473.3 L305.9 1473.7 L307.0 1474.7 L308.1 1476.0 L309.3 1477.5 L310.4 1479.0 L311.5 1480.1 L311.4 1481.0 L310.2 1481.7 L309.5 1482.2 L310.7 1482.6 L315.2 1482.9 L325.0 1483.1 L339.1 1483.1 L354.6 1483.0 L368.6 1483.0 L378.1 1482.9" stroke="#1d5f9c" stroke-width="1.85"/></g>
<path d="M222.4 1267.9v2.6M222.4 1482.5v-2.6M325.7 1267.9v2.6M325.7 1482.5v-2.6M119.6 1339.5h2.6M376.9 1339.5h-2.6M119.6 1411.5h2.6M376.9 1411.5h-2.6" stroke="#222" stroke-width="1.5" fill="none"/>
<rect x="119.6" y="1267.9" width="257.3" height="214.6" fill="none" stroke="#1c1c1c" stroke-width="2.0" stroke-linejoin="round"/>
<text x="110.4" y="1278.0" text-anchor="end" class="tk" style="letter-spacing:0.65px">0.06</text>
<text x="110.4" y="1351.0" text-anchor="end" class="tk" style="letter-spacing:0.65px">0.04</text>
<text x="110.4" y="1423.0" text-anchor="end" class="tk" style="letter-spacing:0.65px">0.02</text>
<text x="108.4" y="1494.0" text-anchor="end" class="tk">0</text>
<text x="119.6" y="1518.4" text-anchor="middle" class="tk">32</text>
<text x="222.4" y="1518.4" text-anchor="middle" class="tk">34</text>
<text x="325.7" y="1518.4" text-anchor="middle" class="tk">36</text>
<path d="M564.6 1267.9V1482.5M667.5 1267.9V1482.5M461.6 1339.5H716.9M461.6 1411.5H716.9" stroke="#cfcfcf" stroke-width="1.05" fill="none"/>
<g clip-path="url(#c41)" fill="none" stroke-linejoin="round" stroke-linecap="round"><path d="M461.0 1482.7 L466.3 1482.6 L474.0 1482.5 L482.8 1482.4 L491.2 1482.3 L498.0 1482.3 L502.6 1482.3 L505.9 1482.4 L508.7 1482.5 L511.9 1482.6 L516.5 1482.7 L522.7 1482.6 L530.0 1482.4 L537.8 1482.3 L545.8 1482.2 L553.5 1482.1 L561.3 1482.2 L569.5 1482.3 L577.5 1482.5 L584.7 1482.6 L590.5 1482.7 L594.8 1482.7 L597.8 1482.8 L600.0 1482.8 L601.8 1482.5 L603.5 1481.7 L605.1 1480.2 L606.2 1478.0 L607.2 1475.5 L608.0 1473.3 L609.0 1471.6 L610.2 1471.0 L611.3 1471.4 L612.5 1471.8 L613.6 1471.2 L614.6 1468.8 L615.4 1464.7 L616.2 1459.7 L616.9 1453.3 L617.6 1445.0 L618.3 1434.5 L619.0 1419.9 L619.8 1401.3 L620.5 1381.8 L621.3 1364.2 L622.0 1351.3 L622.7 1344.1 L623.5 1340.8 L624.2 1339.8 L625.0 1339.7 L625.7 1339.2 L626.4 1338.1 L627.2 1337.4 L627.9 1337.1 L628.7 1337.7 L629.4 1339.2 L630.1 1341.6 L630.9 1344.6 L631.6 1348.5 L632.4 1353.7 L633.1 1360.5 L633.8 1370.0 L634.6 1382.1 L635.4 1394.9 L636.1 1406.8 L636.8 1416.0 L637.4 1422.2 L637.9 1426.4 L638.4 1429.3 L639.0 1431.5 L639.6 1433.6 L640.3 1435.2 L641.0 1435.9 L641.8 1436.3 L642.6 1436.9 L643.3 1438.2 L643.9 1440.4 L644.4 1442.9 L644.9 1445.8 L645.4 1449.2 L646.0 1453.0 L646.7 1457.9 L647.5 1463.7 L648.2 1469.7 L649.0 1475.0 L649.7 1479.0 L650.1 1481.2 L650.0 1482.3 L650.1 1482.6 L651.1 1482.6 L653.5 1482.7 L657.6 1482.7 L663.1 1482.5 L669.4 1482.2 L676.2 1481.9 L683.1 1481.7 L690.6 1481.8 L699.1 1482.0 L707.6 1482.3 L714.9 1482.5 L720.1 1482.7" stroke="#5ab0e8" stroke-opacity="0.3" stroke-width="3.6"/><path d="M461.0 1482.7 L466.3 1482.6 L474.0 1482.5 L482.8 1482.4 L491.2 1482.3 L498.0 1482.3 L502.6 1482.3 L505.9 1482.4 L508.7 1482.5 L511.9 1482.6 L516.5 1482.7 L522.7 1482.6 L530.0 1482.4 L537.8 1482.3 L545.8 1482.2 L553.5 1482.1 L561.3 1482.2 L569.5 1482.3 L577.5 1482.5 L584.7 1482.6 L590.5 1482.7 L594.8 1482.7 L597.8 1482.8 L600.0 1482.8 L601.8 1482.5 L603.5 1481.7 L605.1 1480.2 L606.2 1478.0 L607.2 1475.5 L608.0 1473.3 L609.0 1471.6 L610.2 1471.0 L611.3 1471.4 L612.5 1471.8 L613.6 1471.2 L614.6 1468.8 L615.4 1464.7 L616.2 1459.7 L616.9 1453.3 L617.6 1445.0 L618.3 1434.5 L619.0 1419.9 L619.8 1401.3 L620.5 1381.8 L621.3 1364.2 L622.0 1351.3 L622.7 1344.1 L623.5 1340.8 L624.2 1339.8 L625.0 1339.7 L625.7 1339.2 L626.4 1338.1 L627.2 1337.4 L627.9 1337.1 L628.7 1337.7 L629.4 1339.2 L630.1 1341.6 L630.9 1344.6 L631.6 1348.5 L632.4 1353.7 L633.1 1360.5 L633.8 1370.0 L634.6 1382.1 L635.4 1394.9 L636.1 1406.8 L636.8 1416.0 L637.4 1422.2 L637.9 1426.4 L638.4 1429.3 L639.0 1431.5 L639.6 1433.6 L640.3 1435.2 L641.0 1435.9 L641.8 1436.3 L642.6 1436.9 L643.3 1438.2 L643.9 1440.4 L644.4 1442.9 L644.9 1445.8 L645.4 1449.2 L646.0 1453.0 L646.7 1457.9 L647.5 1463.7 L648.2 1469.7 L649.0 1475.0 L649.7 1479.0 L650.1 1481.2 L650.0 1482.3 L650.1 1482.6 L651.1 1482.6 L653.5 1482.7 L657.6 1482.7 L663.1 1482.5 L669.4 1482.2 L676.2 1481.9 L683.1 1481.7 L690.6 1481.8 L699.1 1482.0 L707.6 1482.3 L714.9 1482.5 L720.1 1482.7" stroke="#1d5f9c" stroke-width="1.85"/></g>
<path d="M564.6 1267.9v2.6M564.6 1482.5v-2.6M667.5 1267.9v2.6M667.5 1482.5v-2.6M461.6 1339.5h2.6M716.9 1339.5h-2.6M461.6 1411.5h2.6M716.9 1411.5h-2.6" stroke="#222" stroke-width="1.5" fill="none"/>
<rect x="461.6" y="1267.9" width="255.3" height="214.6" fill="none" stroke="#1c1c1c" stroke-width="2.0" stroke-linejoin="round"/>
<text x="452.4" y="1278.0" text-anchor="end" class="tk" style="letter-spacing:0.65px">0.06</text>
<text x="452.4" y="1351.0" text-anchor="end" class="tk" style="letter-spacing:0.65px">0.04</text>
<text x="452.4" y="1423.0" text-anchor="end" class="tk" style="letter-spacing:0.65px">0.02</text>
<text x="450.4" y="1494.0" text-anchor="end" class="tk">0</text>
<text x="461.6" y="1518.4" text-anchor="middle" class="tk">32</text>
<text x="564.6" y="1518.4" text-anchor="middle" class="tk">34</text>
<text x="667.5" y="1518.4" text-anchor="middle" class="tk">36</text>
<path d="M904.7 1267.9V1482.5M1007.6 1267.9V1482.5M801.9 1339.5H1059.4M801.9 1411.5H1059.4" stroke="#cfcfcf" stroke-width="1.05" fill="none"/>
<g clip-path="url(#c42)" fill="none" stroke-linejoin="round" stroke-linecap="round"><path d="M801.0 1482.7 L806.0 1482.6 L813.1 1482.5 L821.4 1482.5 L830.0 1482.4 L838.0 1482.3 L845.9 1482.2 L854.2 1482.1 L862.3 1482.1 L869.5 1481.9 L875.0 1481.7 L878.4 1481.5 L880.1 1481.4 L880.9 1481.1 L881.4 1480.7 L882.4 1479.9 L883.9 1478.6 L885.4 1477.1 L886.9 1475.3 L888.3 1473.4 L889.8 1471.6 L891.3 1469.6 L892.8 1467.6 L894.3 1465.5 L895.7 1463.7 L897.2 1462.3 L898.7 1461.7 L900.3 1461.6 L901.8 1461.8 L903.3 1461.5 L904.6 1460.5 L905.9 1458.7 L907.0 1456.6 L908.0 1453.9 L909.1 1450.4 L910.2 1445.6 L911.3 1439.8 L912.4 1433.1 L913.5 1425.4 L914.6 1416.6 L915.7 1406.8 L916.9 1395.0 L918.0 1381.3 L919.2 1367.0 L920.3 1353.5 L921.3 1342.0 L922.1 1332.7 L922.9 1324.7 L923.6 1317.8 L924.3 1311.9 L925.0 1306.9 L925.7 1302.9 L926.4 1300.0 L927.1 1298.0 L927.8 1296.6 L928.7 1295.8 L929.7 1295.8 L930.8 1296.8 L931.9 1298.2 L933.1 1299.3 L934.2 1299.5 L935.3 1298.5 L936.4 1296.7 L937.5 1294.6 L938.6 1292.3 L939.8 1290.2 L941.1 1288.0 L942.4 1285.4 L943.8 1282.9 L945.1 1281.0 L946.3 1280.0 L947.3 1279.9 L948.3 1280.4 L949.2 1281.6 L950.1 1283.6 L950.9 1286.5 L951.7 1290.4 L952.4 1295.2 L953.2 1300.8 L953.9 1307.2 L954.6 1314.3 L955.3 1322.3 L956.0 1331.4 L956.7 1341.1 L957.4 1351.0 L958.3 1360.5 L959.3 1370.5 L960.4 1381.1 L961.5 1391.4 L962.7 1400.3 L963.8 1406.8 L965.0 1410.1 L966.1 1410.8 L967.2 1410.3 L968.3 1409.5 L969.4 1409.6 L970.5 1410.4 L971.6 1411.1 L972.7 1412.1 L973.8 1413.7 L974.9 1416.0 L976.1 1419.4 L977.2 1423.4 L978.3 1428.1 L979.4 1433.1 L980.5 1438.2 L981.6 1443.9 L982.7 1450.3 L983.8 1456.7 L984.9 1462.8 L986.0 1467.9 L987.0 1472.0 L987.9 1475.5 L988.8 1478.5 L990.0 1480.9 L991.6 1482.7 L993.8 1483.6 L996.4 1483.9 L999.3 1483.6 L1002.1 1483.1 L1004.6 1482.7 L1006.5 1482.2 L1008.1 1481.6 L1009.6 1480.9 L1011.4 1480.3 L1013.8 1479.9 L1016.9 1479.7 L1020.5 1479.6 L1024.5 1479.6 L1028.5 1479.7 L1032.3 1479.9 L1036.2 1480.1 L1040.2 1480.5 L1044.1 1481.0 L1047.7 1481.4 L1050.8 1481.7 L1053.4 1482.0 L1055.6 1482.2 L1057.5 1482.4 L1059.0 1482.5 L1060.1 1482.7" stroke="#5ab0e8" stroke-opacity="0.3" stroke-width="3.6"/><path d="M801.0 1482.7 L806.0 1482.6 L813.1 1482.5 L821.4 1482.5 L830.0 1482.4 L838.0 1482.3 L845.9 1482.2 L854.2 1482.1 L862.3 1482.1 L869.5 1481.9 L875.0 1481.7 L878.4 1481.5 L880.1 1481.4 L880.9 1481.1 L881.4 1480.7 L882.4 1479.9 L883.9 1478.6 L885.4 1477.1 L886.9 1475.3 L888.3 1473.4 L889.8 1471.6 L891.3 1469.6 L892.8 1467.6 L894.3 1465.5 L895.7 1463.7 L897.2 1462.3 L898.7 1461.7 L900.3 1461.6 L901.8 1461.8 L903.3 1461.5 L904.6 1460.5 L905.9 1458.7 L907.0 1456.6 L908.0 1453.9 L909.1 1450.4 L910.2 1445.6 L911.3 1439.8 L912.4 1433.1 L913.5 1425.4 L914.6 1416.6 L915.7 1406.8 L916.9 1395.0 L918.0 1381.3 L919.2 1367.0 L920.3 1353.5 L921.3 1342.0 L922.1 1332.7 L922.9 1324.7 L923.6 1317.8 L924.3 1311.9 L925.0 1306.9 L925.7 1302.9 L926.4 1300.0 L927.1 1298.0 L927.8 1296.6 L928.7 1295.8 L929.7 1295.8 L930.8 1296.8 L931.9 1298.2 L933.1 1299.3 L934.2 1299.5 L935.3 1298.5 L936.4 1296.7 L937.5 1294.6 L938.6 1292.3 L939.8 1290.2 L941.1 1288.0 L942.4 1285.4 L943.8 1282.9 L945.1 1281.0 L946.3 1280.0 L947.3 1279.9 L948.3 1280.4 L949.2 1281.6 L950.1 1283.6 L950.9 1286.5 L951.7 1290.4 L952.4 1295.2 L953.2 1300.8 L953.9 1307.2 L954.6 1314.3 L955.3 1322.3 L956.0 1331.4 L956.7 1341.1 L957.4 1351.0 L958.3 1360.5 L959.3 1370.5 L960.4 1381.1 L961.5 1391.4 L962.7 1400.3 L963.8 1406.8 L965.0 1410.1 L966.1 1410.8 L967.2 1410.3 L968.3 1409.5 L969.4 1409.6 L970.5 1410.4 L971.6 1411.1 L972.7 1412.1 L973.8 1413.7 L974.9 1416.0 L976.1 1419.4 L977.2 1423.4 L978.3 1428.1 L979.4 1433.1 L980.5 1438.2 L981.6 1443.9 L982.7 1450.3 L983.8 1456.7 L984.9 1462.8 L986.0 1467.9 L987.0 1472.0 L987.9 1475.5 L988.8 1478.5 L990.0 1480.9 L991.6 1482.7 L993.8 1483.6 L996.4 1483.9 L999.3 1483.6 L1002.1 1483.1 L1004.6 1482.7 L1006.5 1482.2 L1008.1 1481.6 L1009.6 1480.9 L1011.4 1480.3 L1013.8 1479.9 L1016.9 1479.7 L1020.5 1479.6 L1024.5 1479.6 L1028.5 1479.7 L1032.3 1479.9 L1036.2 1480.1 L1040.2 1480.5 L1044.1 1481.0 L1047.7 1481.4 L1050.8 1481.7 L1053.4 1482.0 L1055.6 1482.2 L1057.5 1482.4 L1059.0 1482.5 L1060.1 1482.7" stroke="#1d5f9c" stroke-width="1.85"/></g>
<path d="M904.7 1267.9v2.6M904.7 1482.5v-2.6M1007.6 1267.9v2.6M1007.6 1482.5v-2.6M801.9 1339.5h2.6M1059.4 1339.5h-2.6M801.9 1411.5h2.6M1059.4 1411.5h-2.6" stroke="#222" stroke-width="1.5" fill="none"/>
<rect x="801.9" y="1267.9" width="257.5" height="214.6" fill="none" stroke="#1c1c1c" stroke-width="2.0" stroke-linejoin="round"/>
<text x="792.7" y="1278.0" text-anchor="end" class="tk" style="letter-spacing:0.65px">0.06</text>
<text x="792.7" y="1351.0" text-anchor="end" class="tk" style="letter-spacing:0.65px">0.04</text>
<text x="792.7" y="1423.0" text-anchor="end" class="tk" style="letter-spacing:0.65px">0.02</text>
<text x="790.7" y="1494.0" text-anchor="end" class="tk">0</text>
<text x="801.9" y="1518.4" text-anchor="middle" class="tk">32</text>
<text x="904.7" y="1518.4" text-anchor="middle" class="tk">34</text>
<text x="1007.6" y="1518.4" text-anchor="middle" class="tk">36</text>
<path d="M1247.0 1267.9V1482.5M1349.6 1267.9V1482.5M1143.9 1339.5H1401.3M1143.9 1411.5H1401.3" stroke="#cfcfcf" stroke-width="1.05" fill="none"/>
<g clip-path="url(#c43)" fill="none" stroke-linejoin="round" stroke-linecap="round"><path d="M1143.0 1478.0 L1143.9 1477.5 L1145.2 1476.9 L1146.7 1476.1 L1148.4 1474.9 L1150.4 1473.4 L1152.7 1471.1 L1155.3 1468.2 L1158.0 1465.1 L1160.8 1462.3 L1163.4 1460.5 L1165.6 1459.7 L1167.8 1459.7 L1169.8 1460.1 L1172.0 1460.5 L1174.5 1460.5 L1177.3 1460.0 L1180.4 1459.5 L1183.6 1458.8 L1186.6 1457.9 L1189.3 1456.7 L1191.5 1455.5 L1193.5 1454.1 L1195.2 1452.4 L1196.9 1450.3 L1198.5 1447.5 L1200.1 1444.0 L1201.7 1439.8 L1203.2 1435.2 L1204.6 1430.3 L1205.9 1425.3 L1207.2 1419.8 L1208.3 1413.7 L1209.4 1407.5 L1210.4 1401.9 L1211.5 1397.5 L1212.5 1394.4 L1213.4 1392.1 L1214.3 1390.5 L1215.2 1389.6 L1216.1 1389.2 L1217.0 1389.6 L1217.9 1390.9 L1218.8 1392.6 L1219.7 1394.4 L1220.7 1395.7 L1221.6 1396.6 L1222.3 1397.3 L1223.1 1397.9 L1224.3 1398.3 L1226.3 1398.5 L1229.1 1398.2 L1232.7 1397.6 L1236.8 1396.9 L1240.9 1396.1 L1244.8 1395.7 L1248.7 1395.4 L1252.9 1395.0 L1256.9 1394.9 L1260.5 1395.0 L1263.3 1395.7 L1264.9 1396.7 L1265.7 1398.0 L1266.1 1399.7 L1266.4 1402.0 L1267.0 1404.9 L1268.0 1408.7 L1269.0 1413.3 L1270.2 1418.4 L1271.3 1423.7 L1272.5 1429.0 L1273.7 1434.8 L1274.8 1441.2 L1276.0 1447.5 L1277.3 1452.9 L1279.0 1456.7 L1281.0 1458.6 L1283.1 1459.0 L1285.5 1458.5 L1288.1 1457.5 L1291.0 1456.7 L1294.5 1455.9 L1298.5 1454.6 L1302.6 1453.2 L1306.4 1451.9 L1309.5 1451.2 L1311.7 1451.0 L1313.3 1451.0 L1314.5 1451.4 L1315.6 1452.1 L1316.9 1453.0 L1318.4 1454.5 L1319.9 1456.3 L1321.4 1458.4 L1322.9 1460.5 L1324.3 1462.3 L1325.7 1464.0 L1327.0 1465.8 L1328.3 1467.4 L1329.8 1468.8 L1331.7 1469.7 L1334.4 1470.1 L1337.5 1470.0 L1340.8 1469.7 L1343.9 1469.2 L1346.6 1468.8 L1348.5 1468.4 L1349.9 1467.9 L1351.1 1467.4 L1352.4 1466.8 L1354.0 1466.0 L1355.8 1464.9 L1357.7 1463.4 L1359.8 1462.0 L1361.9 1460.9 L1364.1 1460.5 L1366.4 1460.9 L1368.8 1462.1 L1371.2 1463.6 L1373.7 1465.0 L1376.2 1466.0 L1378.7 1466.5 L1381.3 1466.8 L1383.9 1466.9 L1386.5 1466.9 L1389.1 1466.9 L1391.9 1466.8 L1394.9 1466.6 L1397.8 1466.4 L1400.3 1466.2 L1402.1 1466.0" stroke="#5ab0e8" stroke-opacity="0.3" stroke-width="3.6"/><path d="M1143.0 1478.0 L1143.9 1477.5 L1145.2 1476.9 L1146.7 1476.1 L1148.4 1474.9 L1150.4 1473.4 L1152.7 1471.1 L1155.3 1468.2 L1158.0 1465.1 L1160.8 1462.3 L1163.4 1460.5 L1165.6 1459.7 L1167.8 1459.7 L1169.8 1460.1 L1172.0 1460.5 L1174.5 1460.5 L1177.3 1460.0 L1180.4 1459.5 L1183.6 1458.8 L1186.6 1457.9 L1189.3 1456.7 L1191.5 1455.5 L1193.5 1454.1 L1195.2 1452.4 L1196.9 1450.3 L1198.5 1447.5 L1200.1 1444.0 L1201.7 1439.8 L1203.2 1435.2 L1204.6 1430.3 L1205.9 1425.3 L1207.2 1419.8 L1208.3 1413.7 L1209.4 1407.5 L1210.4 1401.9 L1211.5 1397.5 L1212.5 1394.4 L1213.4 1392.1 L1214.3 1390.5 L1215.2 1389.6 L1216.1 1389.2 L1217.0 1389.6 L1217.9 1390.9 L1218.8 1392.6 L1219.7 1394.4 L1220.7 1395.7 L1221.6 1396.6 L1222.3 1397.3 L1223.1 1397.9 L1224.3 1398.3 L1226.3 1398.5 L1229.1 1398.2 L1232.7 1397.6 L1236.8 1396.9 L1240.9 1396.1 L1244.8 1395.7 L1248.7 1395.4 L1252.9 1395.0 L1256.9 1394.9 L1260.5 1395.0 L1263.3 1395.7 L1264.9 1396.7 L1265.7 1398.0 L1266.1 1399.7 L1266.4 1402.0 L1267.0 1404.9 L1268.0 1408.7 L1269.0 1413.3 L1270.2 1418.4 L1271.3 1423.7 L1272.5 1429.0 L1273.7 1434.8 L1274.8 1441.2 L1276.0 1447.5 L1277.3 1452.9 L1279.0 1456.7 L1281.0 1458.6 L1283.1 1459.0 L1285.5 1458.5 L1288.1 1457.5 L1291.0 1456.7 L1294.5 1455.9 L1298.5 1454.6 L1302.6 1453.2 L1306.4 1451.9 L1309.5 1451.2 L1311.7 1451.0 L1313.3 1451.0 L1314.5 1451.4 L1315.6 1452.1 L1316.9 1453.0 L1318.4 1454.5 L1319.9 1456.3 L1321.4 1458.4 L1322.9 1460.5 L1324.3 1462.3 L1325.7 1464.0 L1327.0 1465.8 L1328.3 1467.4 L1329.8 1468.8 L1331.7 1469.7 L1334.4 1470.1 L1337.5 1470.0 L1340.8 1469.7 L1343.9 1469.2 L1346.6 1468.8 L1348.5 1468.4 L1349.9 1467.9 L1351.1 1467.4 L1352.4 1466.8 L1354.0 1466.0 L1355.8 1464.9 L1357.7 1463.4 L1359.8 1462.0 L1361.9 1460.9 L1364.1 1460.5 L1366.4 1460.9 L1368.8 1462.1 L1371.2 1463.6 L1373.7 1465.0 L1376.2 1466.0 L1378.7 1466.5 L1381.3 1466.8 L1383.9 1466.9 L1386.5 1466.9 L1389.1 1466.9 L1391.9 1466.8 L1394.9 1466.6 L1397.8 1466.4 L1400.3 1466.2 L1402.1 1466.0" stroke="#1d5f9c" stroke-width="1.85"/></g>
<path d="M1247.0 1267.9v2.6M1247.0 1482.5v-2.6M1349.6 1267.9v2.6M1349.6 1482.5v-2.6M1143.9 1339.5h2.6M1401.3 1339.5h-2.6M1143.9 1411.5h2.6M1401.3 1411.5h-2.6" stroke="#222" stroke-width="1.5" fill="none"/>
<rect x="1143.9" y="1267.9" width="257.4" height="214.6" fill="none" stroke="#1c1c1c" stroke-width="2.0" stroke-linejoin="round"/>
<text x="1134.7" y="1278.0" text-anchor="end" class="tk" style="letter-spacing:0.65px">0.06</text>
<text x="1134.7" y="1351.0" text-anchor="end" class="tk" style="letter-spacing:0.65px">0.04</text>
<text x="1134.7" y="1423.0" text-anchor="end" class="tk" style="letter-spacing:0.65px">0.02</text>
<text x="1132.7" y="1494.0" text-anchor="end" class="tk">0</text>
<text x="1143.9" y="1518.4" text-anchor="middle" class="tk">32</text>
<text x="1247.0" y="1518.4" text-anchor="middle" class="tk">34</text>
<text x="1349.6" y="1518.4" text-anchor="middle" class="tk">36</text>
<text transform="translate(46.8 1375.2) rotate(-90)" text-anchor="middle" class="lb">power[a.u.]</text>
<text x="181.5" y="32.8" class="ti">(i) 50ns</text>
<text x="512.5" y="32.8" class="ti">(ii) 160ns</text>
<text x="860.0" y="32.8" class="ti">(iii) 500ns</text>
<text x="1191.0" y="32.8" class="ti">(iv) 1000ns</text>
<text x="0" y="29.0" class="lt">A</text>
<text x="0" y="339.0" class="lt">B</text>
<text x="0" y="662.5" class="lt">C</text>
<text x="0" y="947.5" class="lt">D</text>
<text x="0" y="1242.8" class="lt">E</text>
<text x="181.1" y="84.5" class="snr">SNR</text><text x="233.8" y="96.0" class="sub">S</text><text x="249.0" y="84.5" class="snr">=</text><text x="263.6" y="84.5" class="snr">10</text><path d="M292.3 83.9h15.8M292.3 76.8h15.8" stroke="#111" stroke-width="1.7" fill="none"/><path d="M300.2 69.7V83.7" stroke="#333" stroke-width="1.1" fill="none"/><text x="318.0" y="84.5" class="snr">2</text>
<text x="528.1" y="84.5" class="snr">SNR</text><text x="581.5" y="96.0" class="sub">S</text><text x="596.7" y="84.5" class="snr">=</text><text x="611.6" y="84.5" class="snr">37</text><path d="M639.4 83.9h15.8M639.4 76.8h15.8" stroke="#111" stroke-width="1.7" fill="none"/><path d="M647.3 69.7V83.7" stroke="#333" stroke-width="1.1" fill="none"/><text x="665.7" y="84.5" class="snr">6</text>
<text x="859.8" y="84.5" class="snr">SNR</text><text x="913.2" y="96.0" class="sub">S</text><text x="927.7" y="84.5" class="snr">=</text><text x="942.6" y="84.5" class="snr">34</text><path d="M970.4 83.9h15.8M970.4 76.8h15.8" stroke="#111" stroke-width="1.7" fill="none"/><path d="M978.3 69.7V83.7" stroke="#333" stroke-width="1.1" fill="none"/><text x="990.0" y="84.5" class="snr">5</text>
<text x="1207.4" y="84.5" class="snr">SNR</text><text x="1260.7" y="96.0" class="sub">S</text><text x="1275.2" y="84.5" class="snr">=</text><text x="1290.6" y="84.5" class="snr">17</text><path d="M1318.0 83.9h15.8M1318.0 76.8h15.8" stroke="#111" stroke-width="1.7" fill="none"/><path d="M1325.9 69.7V83.7" stroke="#333" stroke-width="1.1" fill="none"/><text x="1344.6" y="84.5" class="snr">3</text>
<text x="181.1" y="993.6" class="snr">SNR</text><text x="233.7" y="1005.6" class="sub">C</text><text x="249.0" y="993.6" class="snr">=</text><text x="263.9" y="993.6" class="snr">33</text><path d="M292.8 993.0h15.8M292.8 985.9h15.8" stroke="#111" stroke-width="1.7" fill="none"/><path d="M300.7 978.8V992.8" stroke="#333" stroke-width="1.1" fill="none"/><text x="314.2" y="993.6" class="snr">11</text>
<text x="511.7" y="993.6" class="snr">SNR</text><text x="565.2" y="1005.6" class="sub">C</text><text x="580.0" y="993.6" class="snr">=</text><text x="596.4" y="993.6" class="snr">128</text><path d="M635.2 993.0h15.8M635.2 985.9h15.8" stroke="#111" stroke-width="1.7" fill="none"/><path d="M643.1 978.8V992.8" stroke="#333" stroke-width="1.1" fill="none"/><text x="654.0" y="993.6" class="snr">27</text>
<text x="859.6" y="993.6" class="snr">SNR</text><text x="913.1" y="1005.6" class="sub">C</text><text x="927.9" y="993.6" class="snr">=</text><text x="945.0" y="993.6" class="snr">198</text><path d="M983.8 993.0h15.8M983.8 985.9h15.8" stroke="#111" stroke-width="1.7" fill="none"/><path d="M991.7 978.8V992.8" stroke="#333" stroke-width="1.1" fill="none"/><text x="1002.5" y="993.6" class="snr">60</text>
<text x="1206.7" y="993.6" class="snr">SNR</text><text x="1260.2" y="1005.6" class="sub">C</text><text x="1275.0" y="993.6" class="snr">=</text><text x="1290.6" y="993.6" class="snr">78</text><path d="M1318.8 993.0h15.8M1318.8 985.9h15.8" stroke="#111" stroke-width="1.7" fill="none"/><path d="M1326.7 978.8V992.8" stroke="#333" stroke-width="1.1" fill="none"/><text x="1336.9" y="993.6" class="snr">23</text>
<text x="248.2" y="1554.8" text-anchor="middle" class="lb">time[μs]</text>
<text x="589.2" y="1554.8" text-anchor="middle" class="lb">time[μs]</text>
<text x="930.7" y="1554.8" text-anchor="middle" class="lb">time[μs]</text>
<text x="1272.6" y="1554.8" text-anchor="middle" class="lb">time[μs]</text>
</svg>
</body></html>
